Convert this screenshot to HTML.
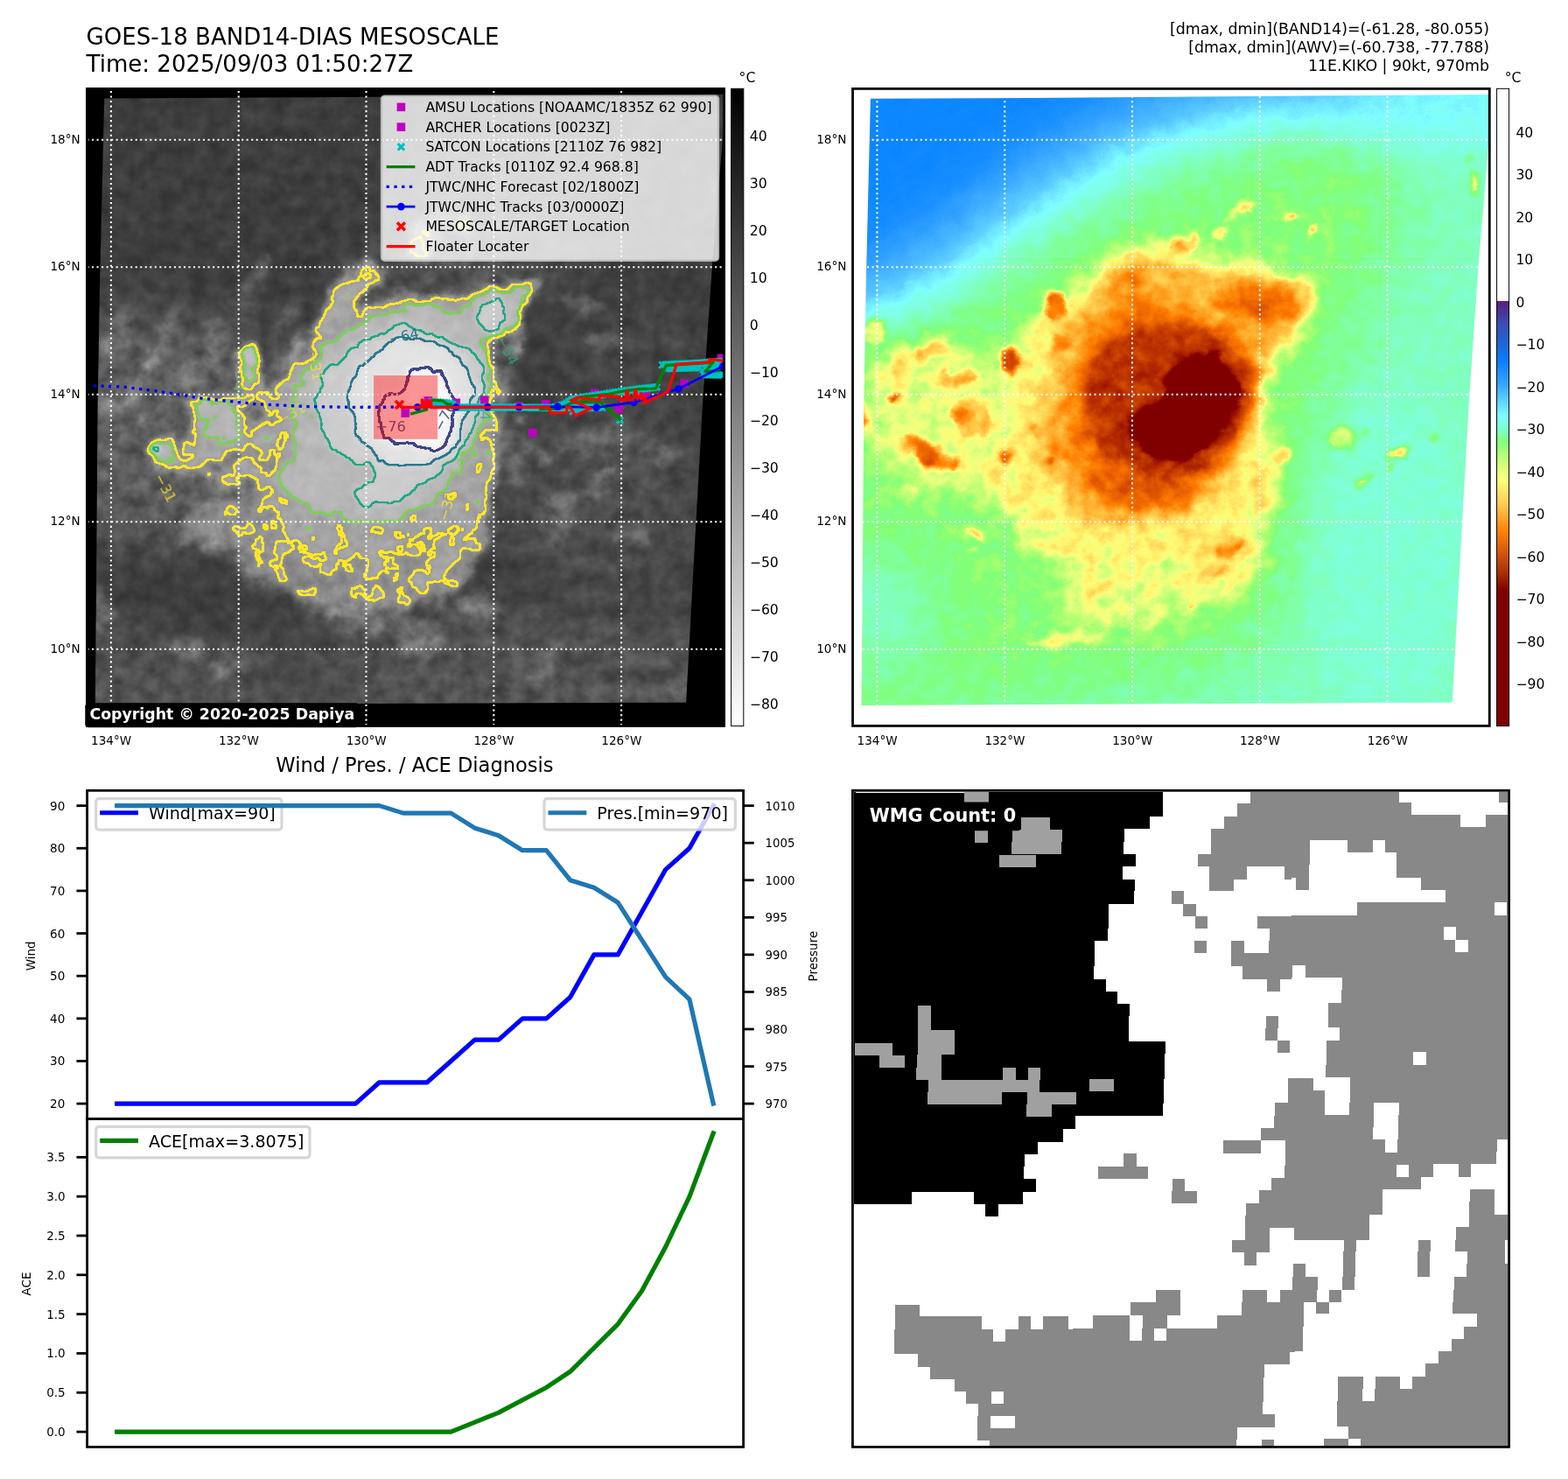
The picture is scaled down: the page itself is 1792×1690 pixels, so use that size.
<!DOCTYPE html>
<html lang="en"><head><meta charset="utf-8"><title>GOES-18 BAND14-DIAS MESOSCALE</title>
<style>html,body{margin:0;padding:0;background:#fff}svg{display:block}text{font-family:'DejaVu Sans','Liberation Sans',sans-serif;white-space:pre}</style></head><body>
<svg width="1792" height="1690" viewBox="0 0 1792 1690">
<rect x="0" y="0" width="1792" height="1690" fill="#fff"/>
<defs><filter id="if0" filterUnits="userSpaceOnUse" x="60" y="70" width="800" height="790" color-interpolation-filters="sRGB"><feGaussianBlur stdDeviation="26" result="b"/><feTurbulence type="fractalNoise" baseFrequency="0.012" numOctaves="3" seed="4" result="n"/><feDisplacementMap in="b" in2="n" scale="30" xChannelSelector="R" yChannelSelector="G"/></filter><filter id="if1" filterUnits="userSpaceOnUse" x="60" y="70" width="800" height="790" color-interpolation-filters="sRGB"><feGaussianBlur stdDeviation="8" result="b"/><feTurbulence type="fractalNoise" baseFrequency="0.013" numOctaves="4" seed="8" result="n"/><feDisplacementMap in="b" in2="n" scale="36" xChannelSelector="R" yChannelSelector="G"/></filter><filter id="if2" filterUnits="userSpaceOnUse" x="60" y="70" width="800" height="790" color-interpolation-filters="sRGB"><feGaussianBlur stdDeviation="7" result="b"/><feTurbulence type="fractalNoise" baseFrequency="0.016" numOctaves="4" seed="15" result="n"/><feDisplacementMap in="b" in2="n" scale="28" xChannelSelector="R" yChannelSelector="G"/></filter><filter id="if3" filterUnits="userSpaceOnUse" x="60" y="70" width="800" height="790" color-interpolation-filters="sRGB"><feGaussianBlur stdDeviation="4.5" result="b"/><feTurbulence type="fractalNoise" baseFrequency="0.03" numOctaves="3" seed="22" result="n"/><feDisplacementMap in="b" in2="n" scale="16" xChannelSelector="R" yChannelSelector="G"/></filter><filter id="if4" filterUnits="userSpaceOnUse" x="60" y="70" width="800" height="790" color-interpolation-filters="sRGB"><feGaussianBlur stdDeviation="4.5" result="b"/><feTurbulence type="fractalNoise" baseFrequency="0.03" numOctaves="3" seed="31" result="n"/><feDisplacementMap in="b" in2="n" scale="14" xChannelSelector="R" yChannelSelector="G"/></filter><filter id="if5" filterUnits="userSpaceOnUse" x="60" y="70" width="800" height="790" color-interpolation-filters="sRGB"><feGaussianBlur stdDeviation="4.5" result="b"/><feTurbulence type="fractalNoise" baseFrequency="0.03" numOctaves="3" seed="33" result="n"/><feDisplacementMap in="b" in2="n" scale="12" xChannelSelector="R" yChannelSelector="G"/></filter><filter id="if6" filterUnits="userSpaceOnUse" x="60" y="70" width="800" height="790" color-interpolation-filters="sRGB"><feGaussianBlur stdDeviation="4.5" result="b"/><feTurbulence type="fractalNoise" baseFrequency="0.03" numOctaves="3" seed="40" result="n"/><feDisplacementMap in="b" in2="n" scale="10" xChannelSelector="R" yChannelSelector="G"/></filter><filter id="if7" filterUnits="userSpaceOnUse" x="60" y="70" width="800" height="790" color-interpolation-filters="sRGB"><feGaussianBlur stdDeviation="5" result="b"/><feTurbulence type="fractalNoise" baseFrequency="0.04" numOctaves="3" seed="44" result="n"/><feDisplacementMap in="b" in2="n" scale="10" xChannelSelector="R" yChannelSelector="G"/></filter><filter id="if8" filterUnits="userSpaceOnUse" x="60" y="70" width="800" height="790" color-interpolation-filters="sRGB"><feGaussianBlur stdDeviation="5" result="b"/><feTurbulence type="fractalNoise" baseFrequency="0.03" numOctaves="3" seed="50" result="n"/><feDisplacementMap in="b" in2="n" scale="25" xChannelSelector="R" yChannelSelector="G"/></filter><filter id="irf" filterUnits="userSpaceOnUse" x="60" y="70" width="800" height="790" color-interpolation-filters="sRGB"><feTurbulence type="fractalNoise" baseFrequency="0.055" numOctaves="3" seed="11" result="n2"/><feDisplacementMap in="SourceGraphic" in2="n2" scale="9" xChannelSelector="G" yChannelSelector="B" result="d2"/><feColorMatrix in="n2" type="matrix" values="1 0 0 0 0  1 0 0 0 0  1 0 0 0 0  0 0 0 0 1" result="ng"/><feComponentTransfer in="d2" result="G"><feFuncR type="table" tableValues="0.000 0.100 0.220 0.500 0.900 1.000 0.600 0.300 0.150 0.080 0.050"/><feFuncG type="table" tableValues="0.000 0.100 0.220 0.500 0.900 1.000 0.600 0.300 0.150 0.080 0.050"/><feFuncB type="table" tableValues="0.000 0.100 0.220 0.500 0.900 1.000 0.600 0.300 0.150 0.080 0.050"/></feComponentTransfer><feComponentTransfer in="d2" result="H"><feFuncR type="table" tableValues="0.0000 0.0810 0.1582 0.2050 0.2290 0.3100 0.4860 0.6430 0.7715 0.8848 0.9905"/><feFuncG type="table" tableValues="0.0000 0.0810 0.1582 0.2050 0.2290 0.3100 0.4860 0.6430 0.7715 0.8848 0.9905"/><feFuncB type="table" tableValues="0.0000 0.0810 0.1582 0.2050 0.2290 0.3100 0.4860 0.6430 0.7715 0.8848 0.9905"/></feComponentTransfer><feComposite in="G" in2="ng" operator="arithmetic" k1="0.38" k2="0" k3="0" k4="0" result="P"/><feComposite in="H" in2="P" operator="arithmetic" k1="0" k2="1" k3="1" k4="0" result="img"/><feGaussianBlur in="img" stdDeviation="0.9" result="sm"/><feColorMatrix in="sm" type="matrix" values="0 0 0 0 1  0 0 0 0 1  0 0 0 0 1  1 0 0 0 0" result="fa"/><feComponentTransfer in="fa" result="m0"><feFuncA type="linear" slope="200.0" intercept="-119.5"/></feComponentTransfer><feMorphology in="m0" operator="dilate" radius="1" result="dl0"/><feMorphology in="m0" operator="erode" radius="1" result="er0"/><feComposite in="dl0" in2="er0" operator="out" result="rr0"/><feGaussianBlur in="rr0" stdDeviation="0.75" result="rb0"/><feComponentTransfer in="rb0" result="rg0"><feFuncA type="linear" slope="2.6" intercept="-0.25"/></feComponentTransfer><feFlood flood-color="#fde725" result="fc0"/><feComposite in="fc0" in2="rg0" operator="in" result="ct0"/><feComponentTransfer in="fa" result="m1"><feFuncA type="linear" slope="200.0" intercept="-135.8"/></feComponentTransfer><feMorphology in="m1" operator="dilate" radius="1" result="dl1"/><feMorphology in="m1" operator="erode" radius="1" result="er1"/><feComposite in="dl1" in2="er1" operator="out" result="rr1"/><feGaussianBlur in="rr1" stdDeviation="0.75" result="rb1"/><feComponentTransfer in="rb1" result="rg1"><feFuncA type="linear" slope="2.6" intercept="-0.25"/></feComponentTransfer><feFlood flood-color="#7ad151" result="fc1"/><feComposite in="fc1" in2="rg1" operator="in" result="ct1"/><feComponentTransfer in="fa" result="m2"><feFuncA type="linear" slope="200.0" intercept="-153.57"/></feComponentTransfer><feMorphology in="m2" operator="dilate" radius="1" result="dl2"/><feMorphology in="m2" operator="erode" radius="1" result="er2"/><feComposite in="dl2" in2="er2" operator="out" result="rr2"/><feGaussianBlur in="rr2" stdDeviation="0.75" result="rb2"/><feComponentTransfer in="rb2" result="rg2"><feFuncA type="linear" slope="2.6" intercept="-0.25"/></feComponentTransfer><feFlood flood-color="#22a884" result="fc2"/><feComposite in="fc2" in2="rg2" operator="in" result="ct2"/><feComponentTransfer in="fa" result="m3"><feFuncA type="linear" slope="200.0" intercept="-168.39"/></feComponentTransfer><feMorphology in="m3" operator="dilate" radius="1" result="dl3"/><feMorphology in="m3" operator="erode" radius="1" result="er3"/><feComposite in="dl3" in2="er3" operator="out" result="rr3"/><feGaussianBlur in="rr3" stdDeviation="0.75" result="rb3"/><feComponentTransfer in="rb3" result="rg3"><feFuncA type="linear" slope="2.6" intercept="-0.25"/></feComponentTransfer><feFlood flood-color="#2a788e" result="fc3"/><feComposite in="fc3" in2="rg3" operator="in" result="ct3"/><feComponentTransfer in="fa" result="m4"><feFuncA type="linear" slope="200.0" intercept="-186.17"/></feComponentTransfer><feMorphology in="m4" operator="dilate" radius="1" result="dl4"/><feMorphology in="m4" operator="erode" radius="1" result="er4"/><feComposite in="dl4" in2="er4" operator="out" result="rr4"/><feGaussianBlur in="rr4" stdDeviation="0.75" result="rb4"/><feComponentTransfer in="rb4" result="rg4"><feFuncA type="linear" slope="2.6" intercept="-0.25"/></feComponentTransfer><feFlood flood-color="#414487" result="fc4"/><feComposite in="fc4" in2="rg4" operator="in" result="ct4"/><feMerge><feMergeNode in="img"/><feMergeNode in="ct0"/><feMergeNode in="ct1"/><feMergeNode in="ct2"/><feMergeNode in="ct3"/><feMergeNode in="ct4"/></feMerge></filter><clipPath id="irq"><path d="M119.2 112.4 L300 111.6 L829.8 107.8 L826.3 155 L814.2 300 L803.1 460 L793 640 L784.1 802.8 L108.8 805 L109.9 683 L111.6 466 L114.2 316 Z"/></clipPath><filter id="wf0" filterUnits="userSpaceOnUse" x="940" y="70" width="800" height="790" color-interpolation-filters="sRGB"><feGaussianBlur stdDeviation="38" result="b"/></filter><filter id="wf1" filterUnits="userSpaceOnUse" x="940" y="70" width="800" height="790" color-interpolation-filters="sRGB"><feGaussianBlur stdDeviation="24" result="b"/></filter><filter id="wf2" filterUnits="userSpaceOnUse" x="940" y="70" width="800" height="790" color-interpolation-filters="sRGB"><feGaussianBlur stdDeviation="44" result="b"/><feTurbulence type="fractalNoise" baseFrequency="0.012" numOctaves="3" seed="3" result="n"/><feDisplacementMap in="b" in2="n" scale="12" xChannelSelector="R" yChannelSelector="G"/></filter><filter id="wf3" filterUnits="userSpaceOnUse" x="940" y="70" width="800" height="790" color-interpolation-filters="sRGB"><feGaussianBlur stdDeviation="13" result="b"/><feTurbulence type="fractalNoise" baseFrequency="0.014" numOctaves="4" seed="7" result="n"/><feDisplacementMap in="b" in2="n" scale="40" xChannelSelector="R" yChannelSelector="G"/></filter><filter id="wf4" filterUnits="userSpaceOnUse" x="940" y="70" width="800" height="790" color-interpolation-filters="sRGB"><feGaussianBlur stdDeviation="9" result="b"/><feTurbulence type="fractalNoise" baseFrequency="0.016" numOctaves="4" seed="12" result="n"/><feDisplacementMap in="b" in2="n" scale="30" xChannelSelector="R" yChannelSelector="G"/></filter><filter id="wf5" filterUnits="userSpaceOnUse" x="940" y="70" width="800" height="790" color-interpolation-filters="sRGB"><feGaussianBlur stdDeviation="8" result="b"/><feTurbulence type="fractalNoise" baseFrequency="0.018" numOctaves="4" seed="14" result="n"/><feDisplacementMap in="b" in2="n" scale="26" xChannelSelector="R" yChannelSelector="G"/></filter><filter id="wf6" filterUnits="userSpaceOnUse" x="940" y="70" width="800" height="790" color-interpolation-filters="sRGB"><feGaussianBlur stdDeviation="7" result="b"/><feTurbulence type="fractalNoise" baseFrequency="0.02" numOctaves="3" seed="5" result="n"/><feDisplacementMap in="b" in2="n" scale="20" xChannelSelector="R" yChannelSelector="G"/></filter><filter id="wf7" filterUnits="userSpaceOnUse" x="940" y="70" width="800" height="790" color-interpolation-filters="sRGB"><feGaussianBlur stdDeviation="4.5" result="b"/><feTurbulence type="fractalNoise" baseFrequency="0.025" numOctaves="3" seed="9" result="n"/><feDisplacementMap in="b" in2="n" scale="12" xChannelSelector="R" yChannelSelector="G"/></filter><filter id="wf8" filterUnits="userSpaceOnUse" x="940" y="70" width="800" height="790" color-interpolation-filters="sRGB"><feGaussianBlur stdDeviation="3" result="b"/><feTurbulence type="fractalNoise" baseFrequency="0.04" numOctaves="3" seed="21" result="n"/><feDisplacementMap in="b" in2="n" scale="12" xChannelSelector="R" yChannelSelector="G"/></filter><filter id="wvf" filterUnits="userSpaceOnUse" x="940" y="70" width="800" height="790" color-interpolation-filters="sRGB"><feTurbulence type="fractalNoise" baseFrequency="0.055" numOctaves="4" seed="11" result="n2"/><feDisplacementMap in="SourceGraphic" in2="n2" scale="10" xChannelSelector="G" yChannelSelector="B" result="d2"/><feColorMatrix in="n2" type="matrix" values="1 0 0 0 0  1 0 0 0 0  1 0 0 0 0  0 0 0 0 1" result="ng"/><feComponentTransfer in="d2" result="G"><feFuncR type="table" tableValues="0.150 0.500 1.000 1.000 1.000 1.000 0.700 0.300 0.150 0.100 0.100"/><feFuncG type="table" tableValues="0.150 0.500 1.000 1.000 1.000 1.000 0.700 0.300 0.150 0.100 0.100"/><feFuncB type="table" tableValues="0.150 0.500 1.000 1.000 1.000 1.000 0.700 0.300 0.150 0.100 0.100"/></feComponentTransfer><feComponentTransfer in="d2" result="H"><feFuncR type="table" tableValues="0.0000 0.0625 0.1250 0.2250 0.3250 0.4250 0.5475 0.6775 0.7888 0.8925 0.9925"/><feFuncG type="table" tableValues="0.0000 0.0625 0.1250 0.2250 0.3250 0.4250 0.5475 0.6775 0.7888 0.8925 0.9925"/><feFuncB type="table" tableValues="0.0000 0.0625 0.1250 0.2250 0.3250 0.4250 0.5475 0.6775 0.7888 0.8925 0.9925"/></feComponentTransfer><feComposite in="G" in2="ng" operator="arithmetic" k1="0.15" k2="0" k3="0" k4="0" result="P"/><feComposite in="H" in2="P" operator="arithmetic" k1="0" k2="1" k3="1" k4="0" result="fld"/><feComponentTransfer in="fld"><feFuncR type="table" tableValues="0.502 0.502 0.502 0.502 0.502 0.502 0.502 0.502 0.502 0.502 0.502 0.533 0.565 0.596 0.627 0.659 0.690 0.722 0.753 0.784 0.816 0.847 0.878 0.910 0.941 0.961 0.980 1.000 1.000 1.000 1.000 1.000 1.000 1.000 1.000 1.000 1.000 1.000 1.000 0.970 0.910 0.826 0.742 0.659 0.580 0.502 0.502 0.502 0.502 0.502 0.502 0.501 0.499 0.498 0.458 0.417 0.376 0.339 0.302 0.265 0.227 0.186 0.144 0.102 0.068 0.034 0.000 0.031 0.063 0.114 0.165"/><feFuncG type="table" tableValues="0.000 0.000 0.000 0.000 0.000 0.000 0.000 0.000 0.000 0.000 0.000 0.016 0.031 0.063 0.094 0.125 0.157 0.188 0.220 0.251 0.282 0.314 0.345 0.376 0.408 0.439 0.471 0.502 0.544 0.586 0.627 0.669 0.711 0.753 0.795 0.837 0.878 0.927 0.976 1.000 1.000 1.000 1.000 1.000 1.000 1.000 1.000 1.000 1.000 1.000 1.000 1.000 1.000 1.000 0.939 0.877 0.816 0.776 0.737 0.698 0.659 0.627 0.596 0.565 0.542 0.520 0.498 0.469 0.439 0.408 0.376"/><feFuncB type="table" tableValues="0.000 0.000 0.000 0.000 0.000 0.000 0.000 0.000 0.000 0.000 0.000 0.000 0.000 0.000 0.000 0.000 0.000 0.000 0.000 0.000 0.000 0.000 0.000 0.000 0.000 0.000 0.000 0.000 0.042 0.084 0.125 0.167 0.209 0.251 0.293 0.335 0.376 0.414 0.452 0.481 0.502 0.481 0.460 0.439 0.455 0.471 0.533 0.596 0.669 0.742 0.816 0.877 0.939 1.000 1.000 1.000 1.000 1.000 1.000 1.000 1.000 1.000 1.000 1.000 1.000 1.000 1.000 0.971 0.941 0.871 0.800"/></feComponentTransfer></filter><clipPath id="wvq"><path d="M994.9 112.8 L1175 112 L1705.5 108 L1702 155 L1689.9 300 L1678.8 460 L1668.7 640 L1659.8 802.8 L984.5 806 L985.6 683 L987.3 466 L989.9 316 Z"/></clipPath></defs>
<rect x="98.1" y="100" width="730.9" height="730.6" fill="#000"/>
<clipPath id="c1"><rect x="99.5" y="101.4" width="728.1" height="727.8"/></clipPath>
<g clip-path="url(#c1)">
<g clip-path="url(#irq)"><g filter="url(#irf)">
<rect x="60" y="70" width="800" height="790" fill="#3e3e3e"/>
<g filter="url(#if0)">
<path d="M60 722 C91.67 701.67 190 740.83 250 738 C310 735.17 368.33 712.17 420 705 C471.67 697.83 513.33 695 560 695 C606.67 695 650 701.67 700 705 C750 708.33 833.33 689.17 860 715 C886.67 740.83 993.33 835.83 860 860 C726.67 884.17 193.33 883 60 860 C-73.33 837 28.33 742.33 60 722Z" fill="#535353"/>
<ellipse cx="690" cy="570" rx="130" ry="110" fill="#4c4c4c"/>
<path d="M60 370 C83.33 330.33 160 359.5 200 362 C240 364.5 278.33 365.33 300 385 C321.67 404.67 330 444.17 330 480 C330 515.83 321.67 578 300 600 C278.33 622 240 612 200 612 C160 612 83.33 640.33 60 600 C36.67 559.67 36.67 409.67 60 370Z" fill="#5d5d5d"/>
<ellipse cx="560" cy="250" rx="130" ry="110" fill="#4a4a4a"/>
<ellipse cx="500" cy="290" rx="70" ry="30" fill="#5b5b5b"/>
<ellipse cx="720" cy="400" rx="90" ry="60" fill="#464646"/>
<ellipse cx="180" cy="680" rx="90" ry="45" fill="#3e3e3e" transform="rotate(25 180 680)"/>
<ellipse cx="350" cy="775" rx="70" ry="30" fill="#484848" transform="rotate(-20 350 775)"/>
</g>
<g filter="url(#if1)">
<path d="M305.05 450.15 C307.42 443.36 307.38 439.88 313.23 429.22 C319.08 418.55 332.53 396.84 340.15 386.16 C347.77 375.48 353.66 373.46 358.95 365.15 C364.25 356.84 366.93 344.88 371.91 336.32 C376.89 327.75 383.74 319.56 388.84 313.76 C393.93 307.95 397.41 304.89 402.46 301.48 C407.51 298.06 413.6 292.98 419.13 293.25 C424.67 293.53 432.41 299.48 435.67 303.13 C438.93 306.77 441.69 311.41 438.7 315.12 C435.7 318.83 423.67 321.29 417.7 325.39 C411.73 329.49 402.75 336.72 402.87 339.74 C402.99 342.75 411.28 343.92 418.45 343.48 C425.61 343.04 438.82 339.01 445.85 337.1 C452.88 335.18 452.9 333.01 460.63 332.01 C468.35 331.01 483.44 330.88 492.2 331.1 C500.96 331.33 506.57 332.93 513.2 333.35 C519.83 333.78 525.77 335.24 531.97 333.66 C538.18 332.09 541.55 326.1 550.44 323.9 C559.33 321.71 574.42 321.65 585.32 320.49 C596.23 319.34 609.75 316.86 615.86 316.97 C621.98 317.07 623.01 318.61 622.03 321.14 C621.06 323.66 613.83 327.1 610.02 332.12 C606.22 337.15 600.75 344.34 599.19 351.3 C597.63 358.27 603.45 369.17 600.67 373.89 C597.89 378.62 588.39 377.75 582.5 379.66 C576.6 381.58 567.71 380.98 565.28 385.41 C562.85 389.84 566.53 399.06 567.9 406.23 C569.27 413.41 572.85 421.2 573.51 428.43 C574.17 435.67 572.45 442.55 571.87 449.65 C571.28 456.76 570 464.11 570 471.07 C570 478.03 571.11 484.49 571.86 491.41 C572.61 498.33 574 504.53 574.5 512.6 C575 520.67 576.25 531.8 574.86 539.83 C573.47 547.85 568.73 552.8 566.14 560.75 C563.55 568.7 561.87 580.5 559.29 587.53 C556.72 594.56 556.02 594.77 550.7 602.94 C545.37 611.12 535.09 625.94 527.35 636.59 C519.61 647.25 510.01 663.49 504.27 666.88 C498.53 670.27 493.39 663.61 492.93 656.94 C492.46 650.27 502.98 634.84 501.46 626.85 C499.94 618.85 490.59 609.1 483.79 608.96 C476.99 608.81 467.31 621.83 460.67 625.99 C454.04 630.15 450.22 630.96 443.99 633.93 C437.75 636.89 429.47 641.83 423.25 643.78 C417.04 645.73 413.57 644.69 406.69 645.61 C399.81 646.53 387.67 650.73 381.97 649.31 C376.28 647.89 379.25 640.38 372.53 637.08 C365.81 633.77 349.56 633.34 341.65 629.49 C333.74 625.64 329.53 616.75 325.07 613.97 C320.61 611.18 317.82 616.4 314.88 612.77 C311.94 609.15 308.22 598.73 307.43 592.24 C306.64 585.75 311.46 582.09 310.15 573.85 C308.84 565.6 301.75 554.87 299.57 542.78 C297.4 530.68 297.21 513.39 297.11 501.26 C297.02 489.13 297.68 478.52 299 470 C300.32 461.48 302.68 456.95 305.05 450.15Z" fill="#797979"/>
<path d="M200 590 C194.17 603.33 240.17 623.33 265 640 C289.83 656.67 316.5 680 349 690 C381.5 700 431.17 702.33 460 700 C488.83 697.67 504.5 692.67 522 676 C539.5 659.33 562 619.33 565 600 C568 580.67 584.17 566.67 540 560 C495.83 553.33 356.67 555 300 560 C243.33 565 205.83 576.67 200 590Z" fill="#919191"/>
</g>
<g filter="url(#if2)">
<path d="M290 585 C290.83 596.17 316.67 618.17 335 632 C353.33 645.83 377.5 660.33 400 668 C422.5 675.67 450.33 680.17 470 678 C489.67 675.83 504.33 668 518 655 C531.67 642 551.67 615.83 552 600 C552.33 584.17 557 565.83 520 560 C483 554.17 368.33 560.83 330 565 C291.67 569.17 289.17 573.83 290 585Z" fill="#979797"/>
<ellipse cx="215" cy="430" rx="20" ry="14" fill="#888888" transform="rotate(-30 215 430)"/>
<ellipse cx="190" cy="380" rx="8" ry="40" fill="#6e6e6e" transform="rotate(28 190 380)"/>
<ellipse cx="240" cy="395" rx="7" ry="36" fill="#717171" transform="rotate(25 240 395)"/>
<ellipse cx="140" cy="370" rx="10" ry="30" fill="#6a6a6a" transform="rotate(30 140 370)"/>
<ellipse cx="285" cy="330" rx="5" ry="40" fill="#626262" transform="rotate(28 285 330)"/>
<ellipse cx="155" cy="435" rx="10" ry="18" fill="#888888"/>
<ellipse cx="120" cy="470" rx="10" ry="20" fill="#909090"/>
<ellipse cx="420" cy="712" rx="40" ry="12" fill="#797979" transform="rotate(-5 420 712)"/>
<ellipse cx="540" cy="690" rx="24" ry="14" fill="#777777"/>
<ellipse cx="210" cy="742" rx="18" ry="12" fill="#757575"/>
<ellipse cx="258" cy="760" rx="16" ry="14" fill="#797979"/>
</g>
<g filter="url(#if3)">
<path d="M312 451 C314.33 444.5 314.33 441.17 320 431 C325.67 420.83 338.67 400.17 346 390 C353.33 379.83 359 378 364 370 C369 362 371.33 350.33 376 342 C380.67 333.67 387.17 325.67 392 320 C396.83 314.33 400.17 311.33 405 308 C409.83 304.67 415.67 299.67 421 300 C426.33 300.33 433.83 306.33 437 310 C440.17 313.67 442.83 318.33 440 322 C437.17 325.67 425.67 328 420 332 C414.33 336 405.83 343 406 346 C406.17 349 414.17 350.33 421 350 C427.83 349.67 440.33 345.83 447 344 C453.67 342.17 453.67 340 461 339 C468.33 338 482.67 337.83 491 338 C499.33 338.17 504.67 339.67 511 340 C517.33 340.33 523 341.67 529 340 C535 338.33 538.33 332.33 547 330 C555.67 327.67 570.33 327.33 581 326 C591.67 324.67 605 322 611 322 C617 322 618 323.5 617 326 C616 328.5 608.83 332 605 337 C601.17 342 595.67 349.17 594 356 C592.33 362.83 597.83 373.33 595 378 C592.17 382.67 582.83 382 577 384 C571.17 386 562.5 385.67 560 390 C557.5 394.33 560.83 403.17 562 410 C563.17 416.83 566.5 424.17 567 431 C567.5 437.83 565.67 444.33 565 451 C564.33 457.67 563 464.5 563 471 C563 477.5 564.17 483.5 565 490 C565.83 496.5 567.33 502.33 568 510 C568.67 517.67 570.17 528.33 569 536 C567.83 543.67 563.33 548.33 561 556 C558.67 563.67 557.33 575.17 555 582 C552.67 588.83 552 589 547 597 C542 605 532.33 619.5 525 630 C517.67 640.5 508.5 656.67 503 660 C497.5 663.33 492.5 656.67 492 650 C491.5 643.33 501.5 628 500 620 C498.5 612 489.5 602.17 483 602 C476.5 601.83 467.33 614.83 461 619 C454.67 623.17 451 624 445 627 C439 630 431 635 425 637 C419 639 415.67 638 409 639 C402.33 640 390.5 644.33 385 643 C379.5 641.67 382.5 634.17 376 631 C369.5 627.83 353.67 627.67 346 624 C338.33 620.33 334.33 611.67 330 609 C325.67 606.33 322.83 611.5 320 608 C317.17 604.5 313.67 594.33 313 588 C312.33 581.67 317.17 578 316 570 C314.83 562 308 551.67 306 540 C304 528.33 304 511.67 304 500 C304 488.33 304.67 478.17 306 470 C307.33 461.83 309.67 457.5 312 451Z" fill="#a3a3a3"/>
<path d="M316 570 C308.83 570.17 288.67 552.33 279 551 C269.33 549.67 262.83 563.17 258 562 C253.17 560.83 254.67 546.33 250 544 C245.33 541.67 238.33 549.17 230 548 C221.67 546.83 209.17 540 200 537 C190.83 534 179.83 534.83 175 530 C170.17 525.17 168.5 513 171 508 C173.5 503 183.83 499.83 190 500 C196.17 500.17 203.33 510.17 208 509 C212.67 507.83 216.33 499.17 218 493 C219.67 486.83 218.67 478.5 218 472 C217.33 465.5 210.33 457.33 214 454 C217.67 450.67 232 452.67 240 452 C248 451.33 256.17 451.17 262 450 C267.83 448.83 273.33 453.33 275 445 C276.67 436.67 270.33 408.83 272 400 C273.67 391.17 280.33 392 285 392 C289.67 392 297.17 392 300 400 C302.83 408 299 431.67 302 440 C305 448.33 314.17 438.33 318 450 C321.83 461.67 324.33 493.33 325 510 C325.67 526.67 323.5 540 322 550 C320.5 560 323.17 569.83 316 570Z" fill="#9f9f9f"/>
<ellipse cx="528" cy="605" rx="7" ry="42" fill="#a2a2a2" transform="rotate(32 528 605)"/>
<ellipse cx="150" cy="456" rx="7" ry="6" fill="#a6a6a6"/>
<ellipse cx="122" cy="396" rx="5" ry="7" fill="#9f9f9f"/>
<ellipse cx="172" cy="410" rx="6" ry="10" fill="#9f9f9f" transform="rotate(20 172 410)"/>
<ellipse cx="590" cy="395" rx="8" ry="12" fill="#9f9f9f" transform="rotate(25 590 395)"/>
<ellipse cx="385" cy="700" rx="7" ry="4" fill="#9f9f9f"/>
<ellipse cx="482" cy="274" rx="15" ry="22" fill="#a2a2a2" transform="rotate(15 482 274)"/>
<ellipse cx="528" cy="257" rx="13" ry="10" fill="#a1a1a1"/>
<ellipse cx="503" cy="250" rx="6" ry="5" fill="#a1a1a1"/>
<ellipse cx="602" cy="248" rx="5" ry="3" fill="#a1a1a1"/>
<ellipse cx="812" cy="214" rx="3" ry="6" fill="#a2a2a2"/>
<ellipse cx="590" cy="478" rx="4" ry="7" fill="#a1a1a1" transform="rotate(20 590 478)"/>
<ellipse cx="622" cy="527" rx="3" ry="8" fill="#a1a1a1"/>
<ellipse cx="639" cy="513" rx="3.5" ry="3.5" fill="#a1a1a1"/>
<ellipse cx="668" cy="513" rx="3.5" ry="3.5" fill="#a1a1a1"/>
<ellipse cx="697" cy="535" rx="11" ry="4" fill="#a1a1a1" transform="rotate(-25 697 535)"/>
<ellipse cx="720" cy="520" rx="3" ry="3" fill="#a1a1a1"/>
<ellipse cx="160" cy="474" rx="4" ry="6" fill="#a1a1a1"/>
<ellipse cx="140" cy="486" rx="4" ry="5" fill="#a1a1a1"/>
<ellipse cx="188" cy="560" rx="5" ry="3" fill="#a1a1a1"/>
<ellipse cx="293" cy="473" rx="13" ry="16" fill="#6e6e6e"/>
<ellipse cx="262" cy="520" rx="7" ry="9" fill="#797979"/>
<ellipse cx="330" cy="362" rx="6" ry="24" fill="#626262" transform="rotate(30 330 362)"/>
<ellipse cx="352" cy="392" rx="4" ry="22" fill="#6a6a6a" transform="rotate(30 352 392)"/>
<ellipse cx="318" cy="420" rx="4" ry="18" fill="#6e6e6e" transform="rotate(22 318 420)"/>
<ellipse cx="245" cy="532" rx="9" ry="6" fill="#757575"/>
<ellipse cx="300" cy="530" rx="7" ry="9" fill="#797979"/>
</g>
<g filter="url(#if4)">
<path d="M334 500 C333 492.83 335 480.5 336 471 C337 461.5 337 451.67 340 443 C343 434.33 348.33 426.33 354 419 C359.67 411.67 367.67 405.17 374 399 C380.33 392.83 384.83 386.83 392 382 C399.17 377.17 408.83 374 417 370 C425.17 366 433 361 441 358 C449 355 457 353.33 465 352 C473 350.67 482 349.33 489 350 C496 350.67 501 354.33 507 356 C513 357.67 521 361 525 360 C529 359 528.67 353.33 531 350 C533.33 346.67 534 343.17 539 340 C544 336.83 553.33 333.17 561 331 C568.67 328.83 577.17 328 585 327 C592.83 326 605.33 322.83 608 325 C610.67 327.17 603.5 334.83 601 340 C598.5 345.17 595 350.33 593 356 C591 361.67 591.67 369.67 589 374 C586.33 378.33 581.67 380.17 577 382 C572.33 383.83 565.33 383.5 561 385 C556.67 386.5 552 386.83 551 391 C550 395.17 553.67 403.33 555 410 C556.33 416.67 558.67 424.17 559 431 C559.33 437.83 558 444.33 557 451 C556 457.67 555 463.67 553 471 C551 478.33 547.33 488.5 545 495 C542.67 501.5 542 504.5 539 510 C536 515.5 531.83 521 527 528 C522.17 535 516.33 544.33 510 552 C503.67 559.67 495.5 568.33 489 574 C482.5 579.67 478 582.67 471 586 C464 589.33 455.33 592.67 447 594 C438.67 595.33 428.83 594.67 421 594 C413.17 593.33 407.5 591.5 400 590 C392.5 588.5 383.33 585.33 376 585 C368.67 584.67 363.33 590.5 356 588 C348.67 585.5 337.67 575.33 332 570 C326.33 564.67 325.33 559.33 322 556 C318.67 552.67 312.33 553 312 550 C311.67 547 315 544 320 538 C325 532 339.67 520.33 342 514 C344.33 507.67 335 507.17 334 500Z" fill="#b8b8b8"/>
<path d="M224 460 C228 455.5 242.67 453.67 250 455 C257.33 456.33 264.33 460.83 268 468 C271.67 475.17 274 491 272 498 C270 505 262 509.33 256 510 C250 510.67 241 506.67 236 502 C231 497.33 228 489 226 482 C224 475 220 464.5 224 460Z" fill="#b5b5b5"/>
<ellipse cx="187" cy="519" rx="17" ry="12" fill="#b7b7b7" transform="rotate(20 187 519)"/>
<ellipse cx="287" cy="415" rx="9" ry="22" fill="#b5b5b5" transform="rotate(8 287 415)"/>
</g>
<g filter="url(#if5)">
<path d="M362 467 C361.33 458.5 362 446.67 364 439 C366 431.33 369.33 427 374 421 C378.67 415 384.83 408.33 392 403 C399.17 397.67 409.5 392.83 417 389 C424.5 385.17 430.33 383.83 437 380 C443.67 376.17 452.17 368.83 457 366 C461.83 363.17 463.33 361.67 466 363 C468.67 364.33 469.17 371.83 473 374 C476.83 376.17 483.67 374.67 489 376 C494.33 377.33 499.67 379.67 505 382 C510.33 384.33 515.33 386.67 521 390 C526.67 393.33 534.33 397.83 539 402 C543.67 406.17 547 410.17 549 415 C551 419.83 551 425.33 551 431 C551 436.67 549.67 442.33 549 449 C548.33 455.67 548.33 463.83 547 471 C545.67 478.17 544 485.17 541 492 C538 498.83 533 505.67 529 512 C525 518.33 521.67 524.83 517 530 C512.33 535.17 507 538.67 501 543 C495 547.33 487.67 551.83 481 556 C474.33 560.17 467.67 564.5 461 568 C454.33 571.5 448 574.67 441 577 C434 579.33 424.5 582.5 419 582 C413.5 581.5 410.33 577.67 408 574 C405.67 570.33 401.33 564.33 405 560 C408.67 555.67 426.83 552.5 430 548 C433.17 543.5 429 536.67 424 533 C419 529.33 407.67 530.17 400 526 C392.33 521.83 383.33 514 378 508 C372.67 502 370.67 496.83 368 490 C365.33 483.17 362.67 475.5 362 467Z" fill="#cecece"/>
<ellipse cx="562" cy="362" rx="17" ry="22" fill="#cccccc" transform="rotate(25 562 362)"/>
<ellipse cx="176" cy="514" rx="6" ry="7" fill="#d0d0d0"/>
<ellipse cx="283" cy="406" rx="5" ry="8" fill="#cccccc"/>
</g>
<g filter="url(#if6)">
<path d="M461 385 C452.17 387.33 440.83 397 434 402 C427.17 407 424.83 410.5 420 415 C415.17 419.5 408.33 424.33 405 429 C401.67 433.67 400.83 437.67 400 443 C399.17 448.33 399.33 454.67 400 461 C400.67 467.33 402.67 475.33 404 481 C405.33 486.67 405.83 491.17 408 495 C410.17 498.83 413.5 499.83 417 504 C420.5 508.17 424.33 515.5 429 520 C433.67 524.5 438.33 528.83 445 531 C451.67 533.17 461.33 533.5 469 533 C476.67 532.5 484 530.17 491 528 C498 525.83 506 523.67 511 520 C516 516.33 518.33 511 521 506 C523.67 501 524.67 495.83 527 490 C529.33 484.17 533 477.5 535 471 C537 464.5 538.67 457.67 539 451 C539.33 444.33 538.67 437 537 431 C535.33 425 532.33 419.5 529 415 C525.67 410.5 521.67 407.5 517 404 C512.33 400.5 506 396.67 501 394 C496 391.33 493.67 389.5 487 388 C480.33 386.5 469.83 382.67 461 385Z" fill="#e3e3e3"/>
</g>
<g filter="url(#if7)">
<ellipse cx="488" cy="467" rx="33" ry="50" fill="#f7f7f7" transform="rotate(-5 488 467)"/>
<ellipse cx="452" cy="478" rx="22" ry="30" fill="#f4f4f4"/>
</g>
<g filter="url(#if8)">
<ellipse cx="640" cy="590" rx="22" ry="35" fill="#626262" transform="rotate(10 640 590)"/>
<ellipse cx="680" cy="560" rx="30" ry="14" fill="#646464" transform="rotate(-25 680 560)"/>
<ellipse cx="725" cy="610" rx="20" ry="12" fill="#626262"/>
<ellipse cx="590" cy="520" rx="14" ry="30" fill="#646464" transform="rotate(5 590 520)"/>
<ellipse cx="690" cy="500" rx="40" ry="18" fill="#5e5e5e" transform="rotate(-10 690 500)"/>
<ellipse cx="750" cy="520" rx="25" ry="14" fill="#606060"/>
<ellipse cx="665" cy="350" rx="25" ry="12" fill="#5b5b5b" transform="rotate(20 665 350)"/>
<ellipse cx="690" cy="390" rx="20" ry="10" fill="#595959"/>
<ellipse cx="115" cy="700" rx="14" ry="30" fill="#666666"/>
<ellipse cx="480" cy="730" rx="30" ry="22" fill="#686868"/>
<ellipse cx="620" cy="760" rx="14" ry="30" fill="#646464" transform="rotate(25 620 760)"/>
<ellipse cx="780" cy="790" rx="12" ry="8" fill="#6e6e6e"/>
<ellipse cx="290" cy="330" rx="6" ry="40" fill="#555555" transform="rotate(25 290 330)"/>
<ellipse cx="120" cy="530" rx="14" ry="20" fill="#626262"/>
</g>
</g></g>
<text x="0" y="0" font-size="16.3" text-anchor="start" fill="#2a788e" opacity="1" transform="translate(446 393) rotate(-12)">−64</text>
<text x="0" y="0" font-size="16.3" text-anchor="start" fill="#22a884" opacity="0.8" transform="translate(567 388) rotate(62)">−54</text>
<text x="0" y="0" font-size="16.3" text-anchor="start" fill="#22a884" opacity="0.7" transform="translate(549 446) rotate(90)">−54</text>
<text x="0" y="0" font-size="16.3" text-anchor="start" fill="#414487" opacity="0.9" transform="translate(429.5 493) rotate(0)">−76</text>
<text x="0" y="0" font-size="16.3" text-anchor="start" fill="#414487" opacity="0.9" transform="translate(505 494) rotate(-62)">−76</text>
<text x="0" y="0" font-size="16.3" text-anchor="start" fill="#7ad151" opacity="0.7" transform="translate(521 548) rotate(-58)">−42</text>
<text x="0" y="0" font-size="16.3" text-anchor="start" fill="#fde725" opacity="0.8" transform="translate(512 596) rotate(-75)">−31</text>
<text x="0" y="0" font-size="16.3" text-anchor="start" fill="#fde725" opacity="0.8" transform="translate(176 545) rotate(62)">−31</text>
<text x="0" y="0" font-size="16.3" text-anchor="start" fill="#fde725" opacity="0.7" transform="translate(352 402) rotate(80)">−31</text>
<text x="0" y="0" font-size="16.3" text-anchor="start" fill="#7ad151" opacity="0.6" transform="translate(264 424) rotate(80)">−42</text>
<text x="0" y="0" font-size="16.3" text-anchor="start" fill="#fde725" opacity="0.5" transform="translate(321 486) rotate(-30)">−31</text>
<text x="0" y="0" font-size="16.3" text-anchor="start" fill="#7ad151" opacity="0.5" transform="translate(332 445) rotate(75)">−42</text>
<line x1="126.9" y1="829.2" x2="126.9" y2="101.4" stroke="#fff" stroke-width="2.08" stroke-dasharray="2.08 3.44"/>
<line x1="272.7" y1="829.2" x2="272.7" y2="101.4" stroke="#fff" stroke-width="2.08" stroke-dasharray="2.08 3.44"/>
<line x1="418.5" y1="829.2" x2="418.5" y2="101.4" stroke="#fff" stroke-width="2.08" stroke-dasharray="2.08 3.44"/>
<line x1="564.3" y1="829.2" x2="564.3" y2="101.4" stroke="#fff" stroke-width="2.08" stroke-dasharray="2.08 3.44"/>
<line x1="710.1" y1="829.2" x2="710.1" y2="101.4" stroke="#fff" stroke-width="2.08" stroke-dasharray="2.08 3.44"/>
<line x1="99.5" y1="741.8" x2="827.6" y2="741.8" stroke="#fff" stroke-width="2.08" stroke-dasharray="2.08 3.44"/>
<line x1="99.5" y1="596.3" x2="827.6" y2="596.3" stroke="#fff" stroke-width="2.08" stroke-dasharray="2.08 3.44"/>
<line x1="99.5" y1="450.8" x2="827.6" y2="450.8" stroke="#fff" stroke-width="2.08" stroke-dasharray="2.08 3.44"/>
<line x1="99.5" y1="305.3" x2="827.6" y2="305.3" stroke="#fff" stroke-width="2.08" stroke-dasharray="2.08 3.44"/>
<line x1="99.5" y1="159.8" x2="827.6" y2="159.8" stroke="#fff" stroke-width="2.08" stroke-dasharray="2.08 3.44"/>
<rect x="427.1" y="429" width="72.95" height="72.8" fill="#ff0000" fill-opacity="0.4"/>
<rect x="458.5" y="467.2" width="9.6" height="9.6" fill="#bf00bf"/>
<rect x="484.6" y="453.1" width="9.6" height="9.6" fill="#bf00bf"/>
<rect x="516.5" y="455.5" width="9.6" height="9.6" fill="#bf00bf"/>
<rect x="548.8" y="452.5" width="9.6" height="9.6" fill="#bf00bf"/>
<rect x="588.3" y="459.2" width="9.6" height="9.6" fill="#bf00bf"/>
<rect x="619" y="456.8" width="9.6" height="9.6" fill="#bf00bf"/>
<rect x="603.9" y="489.7" width="9.6" height="9.6" fill="#bf00bf"/>
<rect x="675" y="444.4" width="9.6" height="9.6" fill="#bf00bf"/>
<rect x="702.5" y="462" width="9.6" height="9.6" fill="#bf00bf"/>
<rect x="733" y="446.2" width="9.6" height="9.6" fill="#bf00bf"/>
<rect x="777.5" y="433.6" width="9.6" height="9.6" fill="#bf00bf"/>
<rect x="819.7" y="404.5" width="9.6" height="9.6" fill="#bf00bf"/>
<path d="M490.3 455.3L497.7 462.7M490.3 462.7L497.7 455.3M493.69 455.61L501.09 463.01M493.69 463.01L501.09 455.61M497.07 455.92L504.47 463.32M497.07 463.32L504.47 455.92M500.46 456.22L507.86 463.62M500.46 463.62L507.86 456.22M503.84 456.53L511.24 463.93M503.84 463.93L511.24 456.53M507.23 456.84L514.63 464.24M507.23 464.24L514.63 456.84M510.62 457.15L518.02 464.55M510.62 464.55L518.02 457.15M513.45 458.56L520.85 465.96M513.45 465.96L520.85 458.56M515.74 461.08L523.14 468.48M515.74 468.48L523.14 461.08M518.86 461.71L526.26 469.11M518.86 469.11L526.26 461.71M522.26 461.71L529.66 469.11M522.26 469.11L529.66 461.71M525.66 461.72L533.06 469.12M525.66 469.12L533.06 461.72M529.06 461.73L536.46 469.13M529.06 469.13L536.46 461.73M532.46 461.74L539.86 469.14M532.46 469.14L539.86 461.74M535.86 461.75L543.26 469.15M535.86 469.15L543.26 461.75M539.26 461.76L546.66 469.16M539.26 469.16L546.66 461.76M542.66 461.77L550.06 469.17M542.66 469.17L550.06 461.77M546.06 461.77L553.46 469.17M546.06 469.17L553.46 461.77M549.46 461.78L556.86 469.18M549.46 469.18L556.86 461.78M552.86 461.79L560.26 469.19M552.86 469.19L560.26 461.79M556.26 461.8L563.66 469.2M556.26 469.2L563.66 461.8M559.66 461.81L567.06 469.21M559.66 469.21L567.06 461.81M563.06 461.82L570.46 469.22M563.06 469.22L570.46 461.82M566.46 461.83L573.86 469.23M566.46 469.23L573.86 461.83M569.86 461.83L577.26 469.23M569.86 469.23L577.26 461.83M573.26 461.84L580.66 469.24M573.26 469.24L580.66 461.84M576.66 461.85L584.06 469.25M576.66 469.25L584.06 461.85M580.06 461.86L587.46 469.26M580.06 469.26L587.46 461.86M583.46 461.87L590.86 469.27M583.46 469.27L590.86 461.87M586.86 461.88L594.26 469.28M586.86 469.28L594.26 461.88M590.26 461.88L597.66 469.28M590.26 469.28L597.66 461.88M593.66 461.89L601.06 469.29M593.66 469.29L601.06 461.89M597.06 461.91L604.46 469.31M597.06 469.31L604.46 461.91M600.46 461.95L607.86 469.35M600.46 469.35L607.86 461.95M603.86 461.99L611.26 469.39M603.86 469.39L611.26 461.99M607.26 462.04L614.66 469.44M607.26 469.44L614.66 462.04M610.66 462.08L618.06 469.48M610.66 469.48L618.06 462.08M614.06 462.12L621.46 469.52M614.06 469.52L621.46 462.12M617.46 462.16L624.86 469.56M617.46 469.56L624.86 462.16M620.86 462.21L628.26 469.61M620.86 469.61L628.26 462.21M624.26 462.25L631.66 469.65M624.26 469.65L631.66 462.25M627.66 462.29L635.06 469.69M627.66 469.69L635.06 462.29M630.95 461.54L638.35 468.94M630.95 468.94L638.35 461.54M634.22 460.61L641.62 468.01M634.22 468.01L641.62 460.61M637.49 459.67L644.89 467.07M637.49 467.07L644.89 459.67M640.76 458.74L648.16 466.14M640.76 466.14L648.16 458.74M643.8 457.3L651.2 464.7M643.8 464.7L651.2 457.3M646.63 455.42L654.03 462.82M646.63 462.82L654.03 455.42M649.46 453.53L656.86 460.93M649.46 460.93L656.86 453.53M652.47 452.11L659.87 459.51M652.47 459.51L659.87 452.11M655.83 451.58L663.23 458.98M655.83 458.98L663.23 451.58M659.18 451.04L666.58 458.44M659.18 458.44L666.58 451.04M662.54 450.5L669.94 457.9M662.54 457.9L669.94 450.5M665.9 449.96L673.3 457.36M665.9 457.36L673.3 449.96M669.25 449.43L676.65 456.83M669.25 456.83L676.65 449.43M672.61 448.89L680.01 456.29M672.61 456.29L680.01 448.89M675.97 448.35L683.37 455.75M675.97 455.75L683.37 448.35M679.33 447.82L686.73 455.22M679.33 455.22L686.73 447.82M682.68 447.28L690.08 454.68M682.68 454.68L690.08 447.28M686.04 446.74L693.44 454.14M686.04 454.14L693.44 446.74M689.4 446.2L696.8 453.6M689.4 453.6L696.8 446.2M692.76 445.67L700.16 453.07M692.76 453.07L700.16 445.67M696.11 445.13L703.51 452.53M696.11 452.53L703.51 445.13M699.47 444.59L706.87 451.99M699.47 451.99L706.87 444.59M702.83 444.09L710.23 451.49M702.83 451.49L710.23 444.09M706.2 443.61L713.6 451.01M706.2 451.01L713.6 443.61M709.57 443.14L716.97 450.54M709.57 450.54L716.97 443.14M712.93 442.67L720.33 450.07M712.93 450.07L720.33 442.67M716.3 442.2L723.7 449.6M716.3 449.6L723.7 442.2M719.67 441.73L727.07 449.13M719.67 449.13L727.07 441.73M723.04 441.26L730.44 448.66M723.04 448.66L730.44 441.26M726.4 440.79L733.8 448.19M726.4 448.19L733.8 440.79M729.78 440.42L737.18 447.82M729.78 447.82L737.18 440.42M733.16 440.05L740.56 447.45M733.16 447.45L740.56 440.05M736.54 439.69L743.94 447.09M736.54 447.09L743.94 439.69M739.92 439.32L747.32 446.72M739.92 446.72L747.32 439.32M743.3 438.95L750.7 446.35M743.3 446.35L750.7 438.95M746.68 438.58L754.08 445.98M746.68 445.98L754.08 438.58M753.3 413.3L760.7 420.7M753.3 420.7L760.7 413.3M756.7 413.15L764.1 420.55M756.7 420.55L764.1 413.15M760.09 412.99L767.49 420.39M760.09 420.39L767.49 412.99M763.49 412.84L770.89 420.24M763.49 420.24L770.89 412.84M766.89 412.68L774.29 420.08M766.89 420.08L774.29 412.68M770.28 412.53L777.68 419.93M770.28 419.93L777.68 412.53M773.68 412.37L781.08 419.77M773.68 419.77L781.08 412.37M777.08 412.22L784.48 419.62M777.08 419.62L784.48 412.22M780.47 412.06L787.87 419.46M780.47 419.46L787.87 412.06M783.87 411.91L791.27 419.31M783.87 419.31L791.27 411.91M787.26 411.73L794.66 419.13M787.26 419.13L794.66 411.73M790.66 411.5L798.06 418.9M790.66 418.9L798.06 411.5M794.05 411.26L801.45 418.66M794.05 418.66L801.45 411.26M797.44 411.03L804.84 418.43M797.44 418.43L804.84 411.03M800.83 410.79L808.23 418.19M800.83 418.19L808.23 410.79M804.22 410.56L811.62 417.96M804.22 417.96L811.62 410.56M807.61 410.32L815.01 417.72M807.61 417.72L815.01 410.32M811.01 410.08L818.41 417.48M811.01 417.48L818.41 410.08M814.4 409.85L821.8 417.25M814.4 417.25L821.8 409.85M817.79 409.61L825.19 417.01M817.79 417.01L825.19 409.61M821.18 409.38L828.58 416.78M821.18 416.78L828.58 409.38M758.3 417.3L765.7 424.7M758.3 424.7L765.7 417.3M761.7 417.21L769.1 424.61M761.7 424.61L769.1 417.21M765.1 417.12L772.5 424.52M765.1 424.52L772.5 417.12M768.5 417.03L775.9 424.43M768.5 424.43L775.9 417.03M771.9 416.94L779.3 424.34M771.9 424.34L779.3 416.94M775.29 416.85L782.69 424.25M775.29 424.25L782.69 416.85M778.69 416.76L786.09 424.16M778.69 424.16L786.09 416.76M782.09 416.67L789.49 424.07M782.09 424.07L789.49 416.67M785.49 416.58L792.89 423.98M785.49 423.98L792.89 416.58M788.89 416.5L796.29 423.9M788.89 423.9L796.29 416.5M792.29 416.41L799.69 423.81M792.29 423.81L799.69 416.41M795.69 416.32L803.09 423.72M795.69 423.72L803.09 416.32M800.3 424.3L807.7 431.7M800.3 431.7L807.7 424.3M803.7 424.38L811.1 431.78M803.7 431.78L811.1 424.38M807.1 424.45L814.5 431.85M807.1 431.85L814.5 424.45M810.5 424.53L817.9 431.93M810.5 431.93L817.9 424.53M813.9 424.61L821.3 432.01M813.9 432.01L821.3 424.61M817.3 424.69L824.7 432.09M817.3 432.09L824.7 424.69M820.69 424.76L828.09 432.16M820.69 432.16L828.09 424.76M802.3 417.3L809.7 424.7M802.3 424.7L809.7 417.3M805.64 416.67L813.04 424.07M805.64 424.07L813.04 416.67M808.98 416.05L816.38 423.45M808.98 423.45L816.38 416.05M812.33 415.42L819.73 422.82M812.33 422.82L819.73 415.42M815.67 414.79L823.07 422.19M815.67 422.19L823.07 414.79M626.3 462.3L633.7 469.7M626.3 469.7L633.7 462.3M629.7 462.27L637.1 469.67M629.7 469.67L637.1 462.27M633.1 462.24L640.5 469.64M633.1 469.64L640.5 462.24M636.5 462.22L643.9 469.62M636.5 469.62L643.9 462.22M639.9 462.19L647.3 469.59M639.9 469.59L647.3 462.19M643.3 462.16L650.7 469.56M643.3 469.56L650.7 462.16M646.7 462.13L654.1 469.53M646.7 469.53L654.1 462.13M650.1 462.1L657.5 469.5M650.1 469.5L657.5 462.1M653.5 462.07L660.9 469.47M653.5 469.47L660.9 462.07M656.9 462.05L664.3 469.45M656.9 469.45L664.3 462.05M660.3 462.02L667.7 469.42M660.3 469.42L667.7 462.02M663.7 461.99L671.1 469.39M663.7 469.39L671.1 461.99M667.1 461.96L674.5 469.36M667.1 469.36L674.5 461.96M670.5 461.93L677.9 469.33M670.5 469.33L677.9 461.93M673.9 461.9L681.3 469.3M673.9 469.3L681.3 461.9M677.3 461.88L684.7 469.28M677.3 469.28L684.7 461.88M680.7 461.85L688.1 469.25M680.7 469.25L688.1 461.85M684.1 461.82L691.5 469.22M684.1 469.22L691.5 461.82M651.3 466.3L658.7 473.7M651.3 473.7L658.7 466.3M654.25 464.61L661.65 472.01M654.25 472.01L661.65 464.61M657.2 462.93L664.6 470.33M657.2 470.33L664.6 462.93M704.8 476.5L712.2 483.9M704.8 483.9L712.2 476.5" stroke="#00bfbf" stroke-width="3.0" fill="none"/>
<path d="M469 473.2 L489 467.7" fill="none" stroke="#008000" stroke-width="3.3" stroke-linejoin="round"/>
<path d="M493.7 457.3 L506 457.9 L511 461.6 L517 462.2" fill="none" stroke="#008000" stroke-width="3.3" stroke-linejoin="round"/>
<path d="M616 467.7 L640 467 L653.4 460.3 L661.6 453.9 L695.6 450.4 L709.7 447.4 L730.8 444.5 L749.5 443.9 L761.3 417.5 L815.2 414 L805.8 424.6 L822 423.5" fill="none" stroke="#008000" stroke-width="3.3" stroke-linejoin="round"/>
<path d="M653.4 460.3 L672 457.5 L686.3 460 L709.7 480.2" fill="none" stroke="#008000" stroke-width="3.3" stroke-linejoin="round"/>
<path d="M98 440.5 L140 442 L180 447 L230 455 L290 461.5 L350 464.5 L400 465.3 L456 465.2" fill="none" stroke="#0000ff" stroke-width="3.3" stroke-dasharray="3.3 5.45"/>
<path d="M477.1 465.2 L521.3 465.2 L557.3 465.2 L593.1 465.2 L637.3 464.6 L681.6 465.6 L724.3 459.7 L775.3 444.5 L826.5 418.3" fill="none" stroke="#0000ff" stroke-width="2.8"/>
<circle cx="477.1" cy="465.2" r="4.3" fill="#0000ff"/>
<circle cx="521.3" cy="465.2" r="4.3" fill="#0000ff"/>
<circle cx="557.3" cy="465.2" r="4.3" fill="#0000ff"/>
<circle cx="593.1" cy="465.2" r="4.3" fill="#0000ff"/>
<circle cx="637.3" cy="464.6" r="4.3" fill="#0000ff"/>
<circle cx="681.6" cy="465.6" r="4.3" fill="#0000ff"/>
<circle cx="724.3" cy="459.7" r="4.3" fill="#0000ff"/>
<circle cx="775.3" cy="444.5" r="4.3" fill="#0000ff"/>
<circle cx="826.5" cy="418.3" r="4.3" fill="#0000ff"/>
<path d="M452 457.9L461 466.9M452 466.9L461 457.9" stroke="#ff0000" stroke-width="3.5" fill="none"/>
<path d="M456.5 462.4 L460 465.3 L482 465.3 L482.6 455.7 L484.5 465.5 L487.3 465.5 L487.8 457.3 L490.2 465.5 L491.8 456.4 L493.4 465.5 L627.5 465.3 L629 472 L647.6 471.4 L647.6 465 L652.3 466.2 L657.5 475 L674.5 466.8 L653.4 457.4 L659.3 454.5 L685.1 456.8 L685.1 452.1 L708.5 453.3 L709.5 457.4 L714.4 457.4 L716.7 445.1 L719 456.8 L723.8 456.8 L726.1 444.5 L729 455 L732 451 L733.1 455.6 L737.8 452.7 L736.1 460.3 L763.6 447.4 L773 416.4 L810.5 414 L811.1 410.5 L826.5 412.3" fill="none" stroke="#ff0000" stroke-width="3.3" stroke-linejoin="miter"/>
</g>
<rect x="99.5" y="101.4" width="728.1" height="728" fill="none" stroke="#000" stroke-width="2.78"/>
<rect x="436.2" y="109.8" width="384.6" height="187.8" rx="3.5" fill="#fff" fill-opacity="0.8" stroke="#ccc" stroke-opacity="0.8" stroke-width="2.78"/>
<rect x="453.6" y="117.6" width="9.6" height="9.6" fill="#bf00bf"/>
<text x="486.4" y="128" font-size="15.63" text-anchor="start" fill="#000">AMSU Locations [NOAAMC/1835Z 62 990]</text>
<rect x="453.6" y="140.34" width="9.6" height="9.6" fill="#bf00bf"/>
<text x="486.4" y="150.74" font-size="15.63" text-anchor="start" fill="#000">ARCHER Locations [0023Z]</text>
<path d="M454.7 164.18L462.1 171.58M454.7 171.58L462.1 164.18" stroke="#00bfbf" stroke-width="3" fill="none"/>
<text x="486.4" y="173.48" font-size="15.63" text-anchor="start" fill="#000">SATCON Locations [2110Z 76 982]</text>
<line x1="441.6" y1="190.62" x2="474.4" y2="190.62" stroke="#008000" stroke-width="3.3"/>
<text x="486.4" y="196.22" font-size="15.63" text-anchor="start" fill="#000">ADT Tracks [0110Z 92.4 968.8]</text>
<line x1="441.6" y1="213.36" x2="474.4" y2="213.36" stroke="#0000ff" stroke-width="3.3" stroke-dasharray="3.3 5.45"/>
<text x="486.4" y="218.96" font-size="15.63" text-anchor="start" fill="#000">JTWC/NHC Forecast [02/1800Z]</text>
<line x1="441.6" y1="236.1" x2="474.4" y2="236.1" stroke="#0000ff" stroke-width="2.8"/>
<circle cx="458.4" cy="236.1" r="4.3" fill="#0000ff"/>
<text x="486.4" y="241.7" font-size="15.63" text-anchor="start" fill="#000">JTWC/NHC Tracks [03/0000Z]</text>
<path d="M453.9 254.34L462.9 263.34M453.9 263.34L462.9 254.34" stroke="#ff0000" stroke-width="3.5" fill="none"/>
<text x="486.4" y="264.44" font-size="15.63" text-anchor="start" fill="#000">MESOSCALE/TARGET Location</text>
<line x1="441.6" y1="281.58" x2="474.4" y2="281.58" stroke="#ff0000" stroke-width="3.3"/>
<text x="486.4" y="287.18" font-size="15.63" text-anchor="start" fill="#000">Floater Locater</text>
<rect x="97.3" y="803.2" width="312.7" height="28" rx="4" fill="#000"/>
<text x="102.4" y="821.7" font-size="17.36" text-anchor="start" font-weight="bold" fill="#fff">Copyright © 2020-2025 Dapiya</text>
<text x="127.1" y="851" font-size="13.55" text-anchor="middle" fill="#000">134°W</text>
<text x="272.9" y="851" font-size="13.55" text-anchor="middle" fill="#000">132°W</text>
<text x="418.7" y="851" font-size="13.55" text-anchor="middle" fill="#000">130°W</text>
<text x="564.5" y="851" font-size="13.55" text-anchor="middle" fill="#000">128°W</text>
<text x="710.3" y="851" font-size="13.55" text-anchor="middle" fill="#000">126°W</text>
<text x="91.6" y="745.7" font-size="13.55" text-anchor="end" fill="#000">10°N</text>
<text x="91.6" y="600.2" font-size="13.55" text-anchor="end" fill="#000">12°N</text>
<text x="91.6" y="454.7" font-size="13.55" text-anchor="end" fill="#000">14°N</text>
<text x="91.6" y="309.2" font-size="13.55" text-anchor="end" fill="#000">16°N</text>
<text x="91.6" y="163.7" font-size="13.55" text-anchor="end" fill="#000">18°N</text>
<linearGradient id="cb1" x1="0" y1="0" x2="0" y2="1"><stop offset="0" stop-color="#000"/><stop offset="1" stop-color="#fff"/></linearGradient>
<rect x="835.6" y="101.3" width="14.2" height="728.3" fill="url(#cb1)" stroke="#000" stroke-width="1"/>
<text x="856.8" y="161.2" font-size="15.63" text-anchor="start" fill="#000">40</text>
<text x="856.8" y="215.25" font-size="15.63" text-anchor="start" fill="#000">30</text>
<text x="856.8" y="269.3" font-size="15.63" text-anchor="start" fill="#000">20</text>
<text x="856.8" y="323.35" font-size="15.63" text-anchor="start" fill="#000">10</text>
<text x="856.8" y="377.4" font-size="15.63" text-anchor="start" fill="#000">0</text>
<text x="856.8" y="431.45" font-size="15.63" text-anchor="start" fill="#000">−10</text>
<text x="856.8" y="485.5" font-size="15.63" text-anchor="start" fill="#000">−20</text>
<text x="856.8" y="539.55" font-size="15.63" text-anchor="start" fill="#000">−30</text>
<text x="856.8" y="593.6" font-size="15.63" text-anchor="start" fill="#000">−40</text>
<text x="856.8" y="647.65" font-size="15.63" text-anchor="start" fill="#000">−50</text>
<text x="856.8" y="701.7" font-size="15.63" text-anchor="start" fill="#000">−60</text>
<text x="856.8" y="755.75" font-size="15.63" text-anchor="start" fill="#000">−70</text>
<text x="856.8" y="809.8" font-size="15.63" text-anchor="start" fill="#000">−80</text>
<text x="844.6" y="94" font-size="15.63" text-anchor="start" fill="#000">°C</text>
<clipPath id="c2"><rect x="974.5" y="101.4" width="727.8" height="728"/></clipPath>
<g clip-path="url(#c2)">
<g clip-path="url(#wvq)"><g filter="url(#wvf)">
<rect x="940" y="70" width="800" height="790" fill="#b4b4b4"/>
<g filter="url(#wf0)">
<path d="M940 360 C956.67 286.67 1008.33 386.67 1040 380 C1071.67 373.33 1100 339.67 1130 320 C1160 300.33 1185 280 1220 262 C1255 244 1298.33 229 1340 212 C1381.67 195 1433.33 170.33 1470 160 C1506.67 149.67 1538.33 135 1560 150 C1581.67 165 1605 208.33 1600 250 C1595 291.67 1546.67 355 1530 400 C1513.33 445 1508.33 480 1500 520 C1491.67 560 1491.67 603.33 1480 640 C1468.33 676.67 1460 715 1430 740 C1400 765 1346.67 780 1300 790 C1253.33 800 1210 795 1150 800 C1090 805 975 893.33 940 820 C905 746.67 923.33 433.33 940 360Z" fill="#a4a4a4"/>
<ellipse cx="1010" cy="700" rx="50" ry="70" fill="#bababa" transform="rotate(-20 1010 700)"/>
<ellipse cx="1620" cy="130" rx="110" ry="40" fill="#bdbdbd"/>
</g>
<g filter="url(#wf1)">
<path d="M1440 50 C1490 38.33 1715 33.33 1770 50 C1825 66.67 1790 132 1770 150 C1750 168 1687.5 158.33 1650 158 C1612.5 157.67 1575 154.33 1545 148 C1515 141.67 1487.5 136.33 1470 120 C1452.5 103.67 1390 61.67 1440 50Z" fill="#c2c2c2"/>
<ellipse cx="1590" cy="640" rx="90" ry="200" fill="#b8b8b8"/>
</g>
<g filter="url(#wf2)">
<path d="M880 20 C995 -40 1471.33 6 1570 20 C1668.67 34 1500 87 1472 104 C1444 121 1424.5 117 1402 122 C1379.5 127 1358.33 126.67 1337 134 C1315.67 141.33 1295.33 154.5 1274 166 C1252.67 177.5 1230.67 188.83 1209 203 C1187.33 217.17 1162 237.67 1144 251 C1126 264.33 1115.33 272.83 1101 283 C1086.67 293.17 1072.5 303.67 1058 312 C1043.5 320.33 1026.67 327.67 1014 333 C1001.33 338.33 1004.33 336.17 982 344 C959.67 351.83 897 434 880 380 C863 326 765 80 880 20Z" fill="#e6e6e6"/>
<path d="M880 20 C966.67 -28 1331.67 8 1400 20 C1468.33 32 1325 71.67 1290 92 C1255 112.33 1223.33 122 1190 142 C1156.67 162 1123.33 190.33 1090 212 C1056.67 233.67 1025 256 990 272 C955 288 898.33 350 880 308 C861.67 266 793.33 68 880 20Z" fill="#ebebeb"/>
</g>
<g filter="url(#wf3)">
<path d="M1292 290 C1268.33 296.67 1249 313 1228 330 C1207 347 1181.5 370 1166 392 C1150.5 414 1140.67 437.33 1135 462 C1129.33 486.67 1126.5 515.33 1132 540 C1137.5 564.67 1150.83 589.67 1168 610 C1185.17 630.33 1209.67 648.33 1235 662 C1260.33 675.67 1293.83 690.67 1320 692 C1346.17 693.33 1372.83 683.67 1392 670 C1411.17 656.33 1424.5 633.33 1435 610 C1445.5 586.67 1452.83 556.67 1455 530 C1457.17 503.33 1445.17 472.5 1448 450 C1450.83 427.5 1463.33 414.17 1472 395 C1480.67 375.83 1505.33 350 1500 335 C1494.67 320 1461.67 312.5 1440 305 C1418.33 297.5 1394.67 292.5 1370 290 C1345.33 287.5 1315.67 283.33 1292 290Z" fill="#8a8a8a"/>
<path d="M985 430 C994.17 407.5 1027.5 390.83 1050 385 C1072.5 379.17 1103.33 380.83 1120 395 C1136.67 409.17 1148.33 444.17 1150 470 C1151.67 495.83 1145 535 1130 550 C1115 565 1082.5 565 1060 560 C1037.5 555 1007.5 541.67 995 520 C982.5 498.33 975.83 452.5 985 430Z" fill="#929292"/>
<ellipse cx="1180" cy="560" rx="70" ry="40" fill="#8a8a8a" transform="rotate(30 1180 560)"/>
<ellipse cx="1300" cy="680" rx="95" ry="35" fill="#929292" transform="rotate(-8 1300 680)"/>
<ellipse cx="1400" cy="640" rx="40" ry="55" fill="#878787" transform="rotate(35 1400 640)"/>
</g>
<g filter="url(#wf4)">
<path d="M1284 304 C1267.67 310.67 1254 326 1242 340 C1230 354 1219.67 371 1212 388 C1204.33 405 1199.33 423.33 1196 442 C1192.67 460.67 1195 485.33 1192 500 C1189 514.67 1174.17 520 1178 530 C1181.83 540 1203 550 1215 560 C1227 570 1235.83 583.83 1250 590 C1264.17 596.17 1284.17 597 1300 597 C1315.83 597 1331.67 595.33 1345 590 C1358.33 584.67 1368.33 576.67 1380 565 C1391.67 553.33 1405 535.83 1415 520 C1425 504.17 1435 488.33 1440 470 C1445 451.67 1440 425 1445 410 C1450 395 1462.17 393.33 1470 380 C1477.83 366.67 1493.67 340.33 1492 330 C1490.33 319.67 1475.33 319.33 1460 318 C1444.67 316.67 1420 325 1400 322 C1380 319 1359.33 303 1340 300 C1320.67 297 1300.33 297.33 1284 304Z" fill="#757575"/>
</g>
<g filter="url(#wf5)">
<path d="M1290 345 C1273.33 349 1260.67 367.83 1250 382 C1239.33 396.17 1230.67 412 1226 430 C1221.33 448 1219.67 471.67 1222 490 C1224.33 508.33 1230.33 525.83 1240 540 C1249.67 554.17 1263.33 568 1280 575 C1296.67 582 1324.17 584.5 1340 582 C1355.83 579.5 1364.17 570.33 1375 560 C1385.83 549.67 1396.17 535 1405 520 C1413.83 505 1423.5 486.67 1428 470 C1432.5 453.33 1436.67 434.67 1432 420 C1427.33 405.33 1413.67 392.33 1400 382 C1386.33 371.67 1368.33 364.17 1350 358 C1331.67 351.83 1306.67 341 1290 345Z" fill="#5d5d5d"/>
<ellipse cx="1436" cy="346" rx="42" ry="22" fill="#575757" transform="rotate(5 1436 346)"/>
<ellipse cx="1296" cy="556" rx="62" ry="22" fill="#545454" transform="rotate(8 1296 556)"/>
<ellipse cx="1290" cy="318" rx="22" ry="10" fill="#626262" transform="rotate(-20 1290 318)"/>
</g>
<g filter="url(#wf6)">
<path d="M1241 427 C1244.5 415.67 1253.83 407.17 1262 400 C1270.17 392.83 1278.5 389 1290 384 C1301.5 379 1317.33 371 1331 370 C1344.67 369 1358.33 373.5 1372 378 C1385.67 382.5 1403.83 388.83 1413 397 C1422.17 405.17 1424.67 415.17 1427 427 C1429.33 438.83 1430.17 454.33 1427 468 C1423.83 481.67 1417.17 497.67 1408 509 C1398.83 520.33 1384.83 530.17 1372 536 C1359.17 541.83 1344.67 544 1331 544 C1317.33 544 1302.17 541.83 1290 536 C1277.83 530.17 1266.17 520.33 1258 509 C1249.83 497.67 1243.83 481.67 1241 468 C1238.17 454.33 1237.5 438.33 1241 427Z" fill="#404040"/>
</g>
<g filter="url(#wf7)">
<path d="M1377.6 404.6 C1385.05 404.6 1390.8 408.23 1396.7 413.3 C1402.6 418.37 1410.05 428.65 1413 435 C1415.95 441.35 1415.77 444.58 1414.4 451.4 C1413.03 458.22 1409.12 467.73 1404.8 475.9 C1400.48 484.07 1394.85 493.38 1388.5 500.4 C1382.15 507.42 1374.87 513.9 1366.7 518 C1358.53 522.1 1347.67 524.75 1339.5 525 C1331.33 525.25 1324.05 523.17 1317.7 519.5 C1311.35 515.83 1305.93 508.92 1301.4 503 C1296.87 497.08 1292.07 488.83 1290.5 484 C1288.93 479.17 1288.75 476.5 1292 474 C1295.25 471.5 1303.43 471 1310 469 C1316.57 467 1326.93 464.83 1331.4 462 C1335.87 459.17 1336.53 455.58 1336.8 452 C1337.07 448.42 1332.8 444.68 1333 440.5 C1333.2 436.32 1334.83 431.43 1338 426.9 C1341.17 422.37 1345.4 417.02 1352 413.3 C1358.6 409.58 1370.15 404.6 1377.6 404.6Z" fill="#040404"/>
</g>
<g filter="url(#wf8)">
<ellipse cx="1112" cy="478" rx="26" ry="18" fill="#787878" transform="rotate(30 1112 478)"/>
<ellipse cx="1100" cy="474" rx="9" ry="8" fill="#626262"/>
<ellipse cx="1029" cy="427" rx="8" ry="14" fill="#787878" transform="rotate(10 1029 427)"/>
<ellipse cx="1051" cy="406" rx="8" ry="9" fill="#757575"/>
<ellipse cx="1082" cy="431" rx="7" ry="7" fill="#6a6a6a"/>
<ellipse cx="1205" cy="508" rx="40" ry="8" fill="#6d6d6d" transform="rotate(38 1205 508)"/>
<ellipse cx="1148" cy="523" rx="10" ry="5" fill="#575757"/>
<ellipse cx="1050" cy="513" rx="9" ry="9" fill="#3a3a3a"/>
<ellipse cx="1060" cy="520" rx="16" ry="12" fill="#545454" transform="rotate(20 1060 520)"/>
<ellipse cx="1040" cy="505" rx="10" ry="10" fill="#666666"/>
<ellipse cx="1085" cy="530" rx="12" ry="8" fill="#5b5b5b"/>
<ellipse cx="1023" cy="456" rx="6" ry="5" fill="#3a3a3a"/>
<ellipse cx="983" cy="478" rx="6" ry="18" fill="#666666"/>
<ellipse cx="1155" cy="411" rx="10" ry="17" fill="#494949"/>
<ellipse cx="1205" cy="350" rx="10" ry="16" fill="#5b5b5b"/>
<ellipse cx="1215" cy="390" rx="12" ry="10" fill="#666666" transform="rotate(10 1215 390)"/>
<ellipse cx="1070" cy="400" rx="16" ry="8" fill="#808080" transform="rotate(-20 1070 400)"/>
<ellipse cx="1100" cy="432" rx="12" ry="8" fill="#717171"/>
<ellipse cx="1030" cy="420" rx="12" ry="22" fill="#878787" transform="rotate(10 1030 420)"/>
<ellipse cx="1000" cy="380" rx="14" ry="18" fill="#929292"/>
<ellipse cx="1477" cy="247" rx="4" ry="4" fill="#5f5f5f"/>
<ellipse cx="1500" cy="262" rx="4" ry="4" fill="#5f5f5f"/>
<ellipse cx="1425" cy="232" rx="10" ry="4" fill="#7c7c7c" transform="rotate(-20 1425 232)"/>
<ellipse cx="1412" cy="245" rx="14" ry="5" fill="#8a8a8a" transform="rotate(-35 1412 245)"/>
<ellipse cx="1355" cy="280" rx="14" ry="9" fill="#787878" transform="rotate(-10 1355 280)"/>
<ellipse cx="1395" cy="268" rx="5" ry="3" fill="#6d6d6d"/>
<ellipse cx="1686" cy="210" rx="3" ry="14" fill="#7c7c7c" transform="rotate(-8 1686 210)"/>
<ellipse cx="1680" cy="180" rx="2" ry="8" fill="#8a8a8a" transform="rotate(-8 1680 180)"/>
<ellipse cx="1535" cy="500" rx="16" ry="12" fill="#929292" transform="rotate(30 1535 500)"/>
<ellipse cx="1560" cy="493" rx="2.5" ry="2.5" fill="#666666"/>
<ellipse cx="1598" cy="517" rx="12" ry="4" fill="#7c7c7c" transform="rotate(-25 1598 517)"/>
<ellipse cx="1638" cy="500" rx="3" ry="2" fill="#7c7c7c"/>
<ellipse cx="1557" cy="548" rx="12" ry="4" fill="#8e8e8e" transform="rotate(-25 1557 548)"/>
<ellipse cx="1590" cy="535" rx="3" ry="4" fill="#8a8a8a"/>
<ellipse cx="1465" cy="520" rx="9" ry="9" fill="#808080"/>
<ellipse cx="1360" cy="695" rx="5" ry="5" fill="#6d6d6d"/>
<ellipse cx="1240" cy="510" rx="18" ry="7" fill="#5f5f5f" transform="rotate(35 1240 510)"/>
<ellipse cx="1200" cy="527" rx="5" ry="4" fill="#424242"/>
<ellipse cx="1150" cy="525" rx="8" ry="4" fill="#505050"/>
<ellipse cx="1115" cy="608" rx="12" ry="4" fill="#7c7c7c" transform="rotate(30 1115 608)"/>
<ellipse cx="1112" cy="628" rx="6" ry="5" fill="#8a8a8a"/>
<ellipse cx="1215" cy="730" rx="50" ry="6" fill="#8e8e8e" transform="rotate(-5 1215 730)"/>
<ellipse cx="1030" cy="560" rx="18" ry="5" fill="#959595" transform="rotate(10 1030 560)"/>
<ellipse cx="1405" cy="625" rx="18" ry="8" fill="#6a6a6a" transform="rotate(-30 1405 625)"/>
<ellipse cx="1390" cy="655" rx="22" ry="6" fill="#787878" transform="rotate(-30 1390 655)"/>
<ellipse cx="1440" cy="560" rx="10" ry="30" fill="#838383" transform="rotate(5 1440 560)"/>
<ellipse cx="1260" cy="672" rx="18" ry="5" fill="#838383" transform="rotate(-20 1260 672)"/>
<ellipse cx="1185" cy="610" rx="30" ry="14" fill="#8e8e8e" transform="rotate(20 1185 610)"/>
</g>
</g></g>
<line x1="1002.4" y1="829.45" x2="1002.4" y2="101.4" stroke="#fff" stroke-width="2.08" stroke-dasharray="2.08 3.44"/>
<line x1="1148.2" y1="829.45" x2="1148.2" y2="101.4" stroke="#fff" stroke-width="2.08" stroke-dasharray="2.08 3.44"/>
<line x1="1294" y1="829.45" x2="1294" y2="101.4" stroke="#fff" stroke-width="2.08" stroke-dasharray="2.08 3.44"/>
<line x1="1439.8" y1="829.45" x2="1439.8" y2="101.4" stroke="#fff" stroke-width="2.08" stroke-dasharray="2.08 3.44"/>
<line x1="1585.6" y1="829.45" x2="1585.6" y2="101.4" stroke="#fff" stroke-width="2.08" stroke-dasharray="2.08 3.44"/>
<line x1="974.5" y1="741.8" x2="1702.3" y2="741.8" stroke="#fff" stroke-width="2.08" stroke-dasharray="2.08 3.44"/>
<line x1="974.5" y1="596.3" x2="1702.3" y2="596.3" stroke="#fff" stroke-width="2.08" stroke-dasharray="2.08 3.44"/>
<line x1="974.5" y1="450.8" x2="1702.3" y2="450.8" stroke="#fff" stroke-width="2.08" stroke-dasharray="2.08 3.44"/>
<line x1="974.5" y1="305.3" x2="1702.3" y2="305.3" stroke="#fff" stroke-width="2.08" stroke-dasharray="2.08 3.44"/>
<line x1="974.5" y1="159.8" x2="1702.3" y2="159.8" stroke="#fff" stroke-width="2.08" stroke-dasharray="2.08 3.44"/>
</g>
<rect x="974.5" y="101.4" width="727.8" height="728.05" fill="none" stroke="#000" stroke-width="2.78"/>
<text x="1002.6" y="851" font-size="13.55" text-anchor="middle" fill="#000">134°W</text>
<text x="1148.4" y="851" font-size="13.55" text-anchor="middle" fill="#000">132°W</text>
<text x="1294.2" y="851" font-size="13.55" text-anchor="middle" fill="#000">130°W</text>
<text x="1440" y="851" font-size="13.55" text-anchor="middle" fill="#000">128°W</text>
<text x="1585.8" y="851" font-size="13.55" text-anchor="middle" fill="#000">126°W</text>
<text x="967.3" y="745.7" font-size="13.55" text-anchor="end" fill="#000">10°N</text>
<text x="967.3" y="600.2" font-size="13.55" text-anchor="end" fill="#000">12°N</text>
<text x="967.3" y="454.7" font-size="13.55" text-anchor="end" fill="#000">14°N</text>
<text x="967.3" y="309.2" font-size="13.55" text-anchor="end" fill="#000">16°N</text>
<text x="967.3" y="163.7" font-size="13.55" text-anchor="end" fill="#000">18°N</text>
<linearGradient id="cb2" x1="0" y1="0" x2="0" y2="1"><stop offset="0%" stop-color="#ffffff"/><stop offset="33.33%" stop-color="#ffffff"/><stop offset="33.33%" stop-color="#5f1d7d"/><stop offset="36.67%" stop-color="#3b4bb0"/><stop offset="40%" stop-color="#1f66d8"/><stop offset="42.67%" stop-color="#0a7cff"/><stop offset="46.67%" stop-color="#3ba9ff"/><stop offset="51.33%" stop-color="#7ffbff"/><stop offset="53.33%" stop-color="#80ffd0"/><stop offset="55.33%" stop-color="#80ff80"/><stop offset="58%" stop-color="#c0ff78"/><stop offset="61.33%" stop-color="#ffff80"/><stop offset="65.33%" stop-color="#ffc850"/><stop offset="69.33%" stop-color="#ff8408"/><stop offset="73.33%" stop-color="#cc5010"/><stop offset="76%" stop-color="#a83008"/><stop offset="78.67%" stop-color="#800000"/><stop offset="100%" stop-color="#800000"/></linearGradient>
<rect x="1710.6" y="101.3" width="14" height="728.3" fill="url(#cb2)" stroke="#000" stroke-width="1"/>
<text x="1732.4" y="156.9" font-size="15.63" text-anchor="start" fill="#000">40</text>
<text x="1732.4" y="205.39" font-size="15.63" text-anchor="start" fill="#000">30</text>
<text x="1732.4" y="253.88" font-size="15.63" text-anchor="start" fill="#000">20</text>
<text x="1732.4" y="302.37" font-size="15.63" text-anchor="start" fill="#000">10</text>
<text x="1732.4" y="350.86" font-size="15.63" text-anchor="start" fill="#000">0</text>
<text x="1732.4" y="399.35" font-size="15.63" text-anchor="start" fill="#000">−10</text>
<text x="1732.4" y="447.84" font-size="15.63" text-anchor="start" fill="#000">−20</text>
<text x="1732.4" y="496.33" font-size="15.63" text-anchor="start" fill="#000">−30</text>
<text x="1732.4" y="544.82" font-size="15.63" text-anchor="start" fill="#000">−40</text>
<text x="1732.4" y="593.31" font-size="15.63" text-anchor="start" fill="#000">−50</text>
<text x="1732.4" y="641.8" font-size="15.63" text-anchor="start" fill="#000">−60</text>
<text x="1732.4" y="690.29" font-size="15.63" text-anchor="start" fill="#000">−70</text>
<text x="1732.4" y="738.78" font-size="15.63" text-anchor="start" fill="#000">−80</text>
<text x="1732.4" y="787.27" font-size="15.63" text-anchor="start" fill="#000">−90</text>
<text x="1719.8" y="93.6" font-size="15.63" text-anchor="start" fill="#000">°C</text>
<text x="98.6" y="51.3" font-size="26.04" text-anchor="start" fill="#000">GOES-18 BAND14-DIAS MESOSCALE</text>
<text x="98.6" y="81.5" font-size="26.04" text-anchor="start" fill="#000">Time: 2025/09/03 01:50:27Z</text>
<text x="1702" y="38.7" font-size="17.36" text-anchor="end" fill="#000">[dmax, dmin](BAND14)=(-61.28, -80.055)</text>
<text x="1702" y="59.6" font-size="17.36" text-anchor="end" fill="#000">[dmax, dmin](AWV)=(-60.738, -77.788)</text>
<text x="1702" y="80.6" font-size="17.36" text-anchor="end" fill="#000">11E.KIKO | 90kt, 970mb</text>
<text x="474" y="882" font-size="22.57" text-anchor="middle" fill="#000">Wind / Pres. / ACE Diagnosis</text>
<path d="M133.7 1636.1 L160.96 1636.1 L188.22 1636.1 L215.48 1636.1 L242.74 1636.1 L270 1636.1 L297.26 1636.1 L324.52 1636.1 L351.78 1636.1 L379.04 1636.1 L406.3 1636.1 L433.56 1636.1 L460.82 1636.1 L488.08 1636.1 L515.34 1636.1 L542.6 1625.12 L569.86 1614.14 L597.12 1599.79 L624.38 1585.45 L651.64 1567.29 L678.9 1540.17 L706.16 1513.06 L733.42 1475.18 L760.68 1424.75 L787.94 1367.37 L815.2 1294.76" fill="none" stroke="#008000" stroke-width="5.21" stroke-linecap="square" stroke-linejoin="round"/>
<path d="M133.7 1261.1 L160.96 1261.1 L188.22 1261.1 L215.48 1261.1 L242.74 1261.1 L270 1261.1 L297.26 1261.1 L324.52 1261.1 L351.78 1261.1 L379.04 1261.1 L406.3 1261.1 L433.56 1236.78 L460.82 1236.78 L488.08 1236.78 L515.34 1212.46 L542.6 1188.14 L569.86 1188.14 L597.12 1163.82 L624.38 1163.82 L651.64 1139.5 L678.9 1090.86 L706.16 1090.86 L733.42 1042.22 L760.68 993.58 L787.94 969.26 L815.2 920.62" fill="none" stroke="#0000ff" stroke-width="5.21" stroke-linecap="square" stroke-linejoin="round"/>
<rect x="109.7" y="912.6" width="212.3" height="35.5" rx="3.5" fill="#fff" fill-opacity="0.8" stroke="#ccc" stroke-opacity="0.8" stroke-width="3.2"/>
<line x1="116.8" y1="928.75" x2="155.4" y2="928.75" stroke="#0000ff" stroke-width="5.21" stroke-linecap="square"/>
<text x="170" y="936.45" font-size="19.1" text-anchor="start" fill="#000">Wind[max=90]</text>
<path d="M133.7 920.62 L160.96 920.62 L188.22 920.62 L215.48 920.62 L242.74 920.62 L270 920.62 L297.26 920.62 L324.52 920.62 L351.78 920.62 L379.04 920.62 L406.3 920.62 L433.56 920.62 L460.82 929.13 L488.08 929.13 L515.34 929.13 L542.6 946.16 L569.86 954.67 L597.12 971.69 L624.38 971.69 L651.64 1005.74 L678.9 1014.25 L706.16 1031.28 L733.42 1073.84 L760.68 1116.4 L787.94 1141.93 L815.2 1261.1" fill="none" stroke="#1f77b4" stroke-width="5.21" stroke-linecap="square" stroke-linejoin="round"/>
<rect x="622" y="912.6" width="218.4" height="35.5" rx="3.5" fill="#fff" fill-opacity="0.8" stroke="#ccc" stroke-opacity="0.8" stroke-width="3.2"/>
<line x1="629.1" y1="928.75" x2="667.7" y2="928.75" stroke="#1f77b4" stroke-width="5.21" stroke-linecap="square"/>
<text x="682.3" y="936.45" font-size="19.1" text-anchor="start" fill="#000">Pres.[min=970]</text>
<rect x="109.7" y="1287.3" width="244.3" height="35.5" rx="3.5" fill="#fff" fill-opacity="0.8" stroke="#ccc" stroke-opacity="0.8" stroke-width="3.2"/>
<line x1="116.8" y1="1303.45" x2="155.4" y2="1303.45" stroke="#008000" stroke-width="5.21" stroke-linecap="square"/>
<text x="170" y="1311.15" font-size="19.1" text-anchor="start" fill="#000">ACE[max=3.8075]</text>
<rect x="99.6" y="903.3" width="750" height="375.1" fill="none" stroke="#000" stroke-width="2.78"/>
<rect x="99.6" y="1278.4" width="750" height="375" fill="none" stroke="#000" stroke-width="2.78"/>
<line x1="87.45" y1="1261.1" x2="99.6" y2="1261.1" stroke="#000" stroke-width="2.78"/>
<text x="74.3" y="1266.1" font-size="13.5" text-anchor="end" fill="#000">20</text>
<line x1="87.45" y1="1212.46" x2="99.6" y2="1212.46" stroke="#000" stroke-width="2.78"/>
<text x="74.3" y="1217.46" font-size="13.5" text-anchor="end" fill="#000">30</text>
<line x1="87.45" y1="1163.82" x2="99.6" y2="1163.82" stroke="#000" stroke-width="2.78"/>
<text x="74.3" y="1168.82" font-size="13.5" text-anchor="end" fill="#000">40</text>
<line x1="87.45" y1="1115.18" x2="99.6" y2="1115.18" stroke="#000" stroke-width="2.78"/>
<text x="74.3" y="1120.18" font-size="13.5" text-anchor="end" fill="#000">50</text>
<line x1="87.45" y1="1066.54" x2="99.6" y2="1066.54" stroke="#000" stroke-width="2.78"/>
<text x="74.3" y="1071.54" font-size="13.5" text-anchor="end" fill="#000">60</text>
<line x1="87.45" y1="1017.9" x2="99.6" y2="1017.9" stroke="#000" stroke-width="2.78"/>
<text x="74.3" y="1022.9" font-size="13.5" text-anchor="end" fill="#000">70</text>
<line x1="87.45" y1="969.26" x2="99.6" y2="969.26" stroke="#000" stroke-width="2.78"/>
<text x="74.3" y="974.26" font-size="13.5" text-anchor="end" fill="#000">80</text>
<line x1="87.45" y1="920.62" x2="99.6" y2="920.62" stroke="#000" stroke-width="2.78"/>
<text x="74.3" y="925.62" font-size="13.5" text-anchor="end" fill="#000">90</text>
<line x1="849.6" y1="1261.1" x2="861.75" y2="1261.1" stroke="#000" stroke-width="2.78"/>
<text x="874.5" y="1266.1" font-size="13.3" text-anchor="start" fill="#000">970</text>
<line x1="849.6" y1="1218.54" x2="861.75" y2="1218.54" stroke="#000" stroke-width="2.78"/>
<text x="874.5" y="1223.54" font-size="13.3" text-anchor="start" fill="#000">975</text>
<line x1="849.6" y1="1175.98" x2="861.75" y2="1175.98" stroke="#000" stroke-width="2.78"/>
<text x="874.5" y="1180.98" font-size="13.3" text-anchor="start" fill="#000">980</text>
<line x1="849.6" y1="1133.42" x2="861.75" y2="1133.42" stroke="#000" stroke-width="2.78"/>
<text x="874.5" y="1138.42" font-size="13.3" text-anchor="start" fill="#000">985</text>
<line x1="849.6" y1="1090.86" x2="861.75" y2="1090.86" stroke="#000" stroke-width="2.78"/>
<text x="874.5" y="1095.86" font-size="13.3" text-anchor="start" fill="#000">990</text>
<line x1="849.6" y1="1048.3" x2="861.75" y2="1048.3" stroke="#000" stroke-width="2.78"/>
<text x="874.5" y="1053.3" font-size="13.3" text-anchor="start" fill="#000">995</text>
<line x1="849.6" y1="1005.74" x2="861.75" y2="1005.74" stroke="#000" stroke-width="2.78"/>
<text x="874.5" y="1010.74" font-size="13.3" text-anchor="start" fill="#000">1000</text>
<line x1="849.6" y1="963.18" x2="861.75" y2="963.18" stroke="#000" stroke-width="2.78"/>
<text x="874.5" y="968.18" font-size="13.3" text-anchor="start" fill="#000">1005</text>
<line x1="849.6" y1="920.62" x2="861.75" y2="920.62" stroke="#000" stroke-width="2.78"/>
<text x="874.5" y="925.62" font-size="13.3" text-anchor="start" fill="#000">1010</text>
<line x1="87.45" y1="1636.1" x2="99.6" y2="1636.1" stroke="#000" stroke-width="2.78"/>
<text x="74.7" y="1641.1" font-size="13.5" text-anchor="end" fill="#000">0.0</text>
<line x1="87.45" y1="1591.27" x2="99.6" y2="1591.27" stroke="#000" stroke-width="2.78"/>
<text x="74.7" y="1596.27" font-size="13.5" text-anchor="end" fill="#000">0.5</text>
<line x1="87.45" y1="1546.45" x2="99.6" y2="1546.45" stroke="#000" stroke-width="2.78"/>
<text x="74.7" y="1551.45" font-size="13.5" text-anchor="end" fill="#000">1.0</text>
<line x1="87.45" y1="1501.62" x2="99.6" y2="1501.62" stroke="#000" stroke-width="2.78"/>
<text x="74.7" y="1506.62" font-size="13.5" text-anchor="end" fill="#000">1.5</text>
<line x1="87.45" y1="1456.8" x2="99.6" y2="1456.8" stroke="#000" stroke-width="2.78"/>
<text x="74.7" y="1461.8" font-size="13.5" text-anchor="end" fill="#000">2.0</text>
<line x1="87.45" y1="1411.97" x2="99.6" y2="1411.97" stroke="#000" stroke-width="2.78"/>
<text x="74.7" y="1416.97" font-size="13.5" text-anchor="end" fill="#000">2.5</text>
<line x1="87.45" y1="1367.15" x2="99.6" y2="1367.15" stroke="#000" stroke-width="2.78"/>
<text x="74.7" y="1372.15" font-size="13.5" text-anchor="end" fill="#000">3.0</text>
<line x1="87.45" y1="1322.32" x2="99.6" y2="1322.32" stroke="#000" stroke-width="2.78"/>
<text x="74.7" y="1327.32" font-size="13.5" text-anchor="end" fill="#000">3.5</text>
<text x="0" y="0" font-size="13.5" text-anchor="middle" fill="#000" transform="translate(39.5 1092.4) rotate(-90)">Wind</text>
<text x="0" y="0" font-size="13.5" text-anchor="middle" fill="#000" transform="translate(34.6 1467) rotate(-90)">ACE</text>
<text x="0" y="0" font-size="13.5" text-anchor="middle" fill="#000" transform="translate(933.6 1092.6) rotate(-90)">Pressure</text>
<rect x="975.8" y="904.7" width="747.4" height="747.3" fill="#fff"/>
<clipPath id="c5"><rect x="975.8" y="904.7" width="747.4" height="747.3"/></clipPath>
<g clip-path="url(#c5)" shape-rendering="crispEdges">
<rect x="975.8" y="904.7" width="353.1" height="13.3" fill="#000000"/>
<rect x="975.8" y="918" width="353.1" height="14.75" fill="#000000"/>
<rect x="975.8" y="932.75" width="338.1" height="14.15" fill="#000000"/>
<rect x="975.8" y="946.9" width="309.1" height="15" fill="#000000"/>
<rect x="975.8" y="961.9" width="308.1" height="14" fill="#000000"/>
<rect x="975.8" y="975.9" width="322" height="13.8" fill="#000000"/>
<rect x="975.8" y="989.7" width="307" height="15.2" fill="#000000"/>
<rect x="975.8" y="1004.9" width="321.1" height="13.1" fill="#000000"/>
<rect x="975.8" y="1018" width="320.1" height="14.7" fill="#000000"/>
<rect x="975.8" y="1032.7" width="291.1" height="13.8" fill="#000000"/>
<rect x="975.8" y="1046.5" width="291.1" height="14.3" fill="#000000"/>
<rect x="975.8" y="1060.8" width="290" height="14.3" fill="#000000"/>
<rect x="975.8" y="1075.1" width="275" height="14.2" fill="#000000"/>
<rect x="975.8" y="1089.3" width="275" height="14.8" fill="#000000"/>
<rect x="975.8" y="1104.1" width="273.9" height="14.6" fill="#000000"/>
<rect x="975.8" y="1118.7" width="288.1" height="13.9" fill="#000000"/>
<rect x="975.8" y="1132.6" width="301" height="14.2" fill="#000000"/>
<rect x="975.8" y="1146.8" width="315.1" height="14.2" fill="#000000"/>
<rect x="975.8" y="1160" width="314.5" height="29.8" fill="#000000"/>
<rect x="975.8" y="1189.8" width="356.2" height="14.2" fill="#000000"/>
<rect x="975.8" y="1204" width="355.1" height="29" fill="#000000"/>
<rect x="975.8" y="1233" width="354.2" height="28" fill="#000000"/>
<rect x="975.8" y="1261" width="353.1" height="14.4" fill="#000000"/>
<rect x="975.8" y="1275.4" width="252.9" height="14.6" fill="#000000"/>
<rect x="975.8" y="1290" width="239.2" height="14.7" fill="#000000"/>
<rect x="975.8" y="1304.7" width="210.1" height="13.8" fill="#000000"/>
<rect x="975.8" y="1318.5" width="195" height="14.3" fill="#000000"/>
<rect x="975.8" y="1332.8" width="194.1" height="14.3" fill="#000000"/>
<rect x="975.8" y="1347.1" width="208.1" height="14.7" fill="#000000"/>
<rect x="975.8" y="1361.8" width="66.1" height="14.6" fill="#000000"/>
<rect x="1113" y="1361.8" width="55.9" height="14.6" fill="#000000"/>
<rect x="1126" y="1376.4" width="14.8" height="13.2" fill="#000000"/>
<rect x="1102" y="904.7" width="28.1" height="12.1" fill="#a0a0a0"/>
<rect x="1166.9" y="934" width="33.1" height="14.1" fill="#a0a0a0"/>
<rect x="1157.1" y="948.1" width="56.9" height="13.8" fill="#a0a0a0"/>
<rect x="1114" y="949.3" width="15" height="13.5" fill="#a0a0a0"/>
<rect x="1156.1" y="961.9" width="57" height="14.1" fill="#a0a0a0"/>
<rect x="1142.1" y="976.9" width="41.8" height="14" fill="#a0a0a0"/>
<rect x="1049.4" y="1149" width="14.6" height="28" fill="#a0a0a0"/>
<rect x="1048.9" y="1177" width="42.1" height="27.8" fill="#a0a0a0"/>
<rect x="1048.2" y="1204.8" width="27.5" height="15" fill="#a0a0a0"/>
<rect x="1047.1" y="1219.8" width="28.6" height="14.1" fill="#a0a0a0"/>
<rect x="1146" y="1219.8" width="14.9" height="14.1" fill="#a0a0a0"/>
<rect x="1175.2" y="1219.8" width="13.7" height="14.1" fill="#a0a0a0"/>
<rect x="1061.1" y="1233.9" width="126.9" height="14" fill="#a0a0a0"/>
<rect x="1060.2" y="1247.9" width="84.6" height="14.3" fill="#a0a0a0"/>
<rect x="1174.1" y="1247.9" width="55.9" height="14.3" fill="#a0a0a0"/>
<rect x="1173.1" y="1262.2" width="28.8" height="13.5" fill="#a0a0a0"/>
<rect x="977" y="1191.9" width="43.1" height="13.9" fill="#a0a0a0"/>
<rect x="1005.1" y="1205.8" width="28.8" height="14" fill="#a0a0a0"/>
<rect x="1244.9" y="1233.2" width="28.1" height="13.7" fill="#a0a0a0"/>
<rect x="1429.2" y="904.7" width="50.8" height="13.3" fill="#888888"/>
<rect x="1414.2" y="918" width="65.8" height="14.75" fill="#888888"/>
<rect x="1399.1" y="932.75" width="80.9" height="14.15" fill="#888888"/>
<rect x="1384.1" y="946.9" width="95.9" height="29" fill="#888888"/>
<rect x="1369.1" y="975.9" width="110.9" height="13.8" fill="#888888"/>
<rect x="1382.3" y="989.7" width="42.5" height="15.2" fill="#888888"/>
<rect x="1468" y="989.7" width="12" height="15.2" fill="#888888"/>
<rect x="1382.3" y="1004.9" width="27.3" height="13.1" fill="#888888"/>
<rect x="1339" y="1018" width="13.7" height="14.7" fill="#888888"/>
<rect x="1352.2" y="1032.7" width="14.6" height="13.8" fill="#888888"/>
<rect x="1366.2" y="1046.5" width="13.5" height="14.3" fill="#888888"/>
<rect x="1437.2" y="1046.5" width="42.8" height="14.3" fill="#888888"/>
<rect x="1451" y="1060.8" width="29" height="14.3" fill="#888888"/>
<rect x="1365" y="1075.1" width="14" height="14.2" fill="#888888"/>
<rect x="1407.1" y="1075.1" width="14.7" height="14.2" fill="#888888"/>
<rect x="1449.9" y="1075.1" width="30.1" height="14.2" fill="#888888"/>
<rect x="1407.1" y="1089.3" width="72.9" height="14.8" fill="#888888"/>
<rect x="1420.2" y="1104.1" width="56.5" height="14.6" fill="#888888"/>
<rect x="1448.1" y="1118.7" width="14.9" height="13.9" fill="#888888"/>
<rect x="1476" y="904.7" width="248" height="255.3" fill="#888888"/>
<rect x="1598.9" y="904.7" width="114.3" height="12.1" fill="#ffffff"/>
<rect x="1612.8" y="916.8" width="111.2" height="14" fill="#ffffff"/>
<rect x="1668.8" y="930.8" width="29.3" height="14.2" fill="#ffffff"/>
<rect x="1496.7" y="959.7" width="43.5" height="14.3" fill="#ffffff"/>
<rect x="1568.9" y="959.7" width="14.1" height="14.3" fill="#ffffff"/>
<rect x="1496.7" y="974" width="99.2" height="14.4" fill="#ffffff"/>
<rect x="1496" y="988.4" width="99.9" height="14.6" fill="#ffffff"/>
<rect x="1476" y="1003" width="5" height="14.2" fill="#ffffff"/>
<rect x="1496" y="1003" width="128" height="14.2" fill="#ffffff"/>
<rect x="1476" y="1017.2" width="176.1" height="13.8" fill="#ffffff"/>
<rect x="1476" y="1031" width="75.1" height="14.8" fill="#ffffff"/>
<rect x="1707.9" y="1031" width="14.3" height="14.8" fill="#ffffff"/>
<rect x="1649.9" y="1059" width="14" height="14.9" fill="#ffffff"/>
<rect x="1663.1" y="1073.9" width="15" height="13.9" fill="#ffffff"/>
<rect x="1476.8" y="1102.9" width="15.3" height="14.3" fill="#ffffff"/>
<rect x="1476" y="1117.2" width="58.2" height="14.2" fill="#ffffff"/>
<rect x="1476" y="1131.4" width="57.1" height="14.6" fill="#ffffff"/>
<rect x="1476" y="1146" width="42.1" height="14" fill="#ffffff"/>
<rect x="1446.9" y="1161.2" width="14" height="13.8" fill="#888888"/>
<rect x="1446.2" y="1175" width="13.8" height="13.9" fill="#888888"/>
<rect x="1460" y="1188.9" width="14" height="13.9" fill="#888888"/>
<rect x="1472.2" y="1232.1" width="7.8" height="27.8" fill="#888888"/>
<rect x="1457" y="1259.9" width="23" height="15.1" fill="#888888"/>
<rect x="1455.9" y="1275" width="24.1" height="13.9" fill="#888888"/>
<rect x="1441.2" y="1288.9" width="38.8" height="13.9" fill="#888888"/>
<rect x="1398.1" y="1303.1" width="42.8" height="14.7" fill="#888888"/>
<rect x="1469" y="1302.8" width="11" height="29.3" fill="#888888"/>
<rect x="1468" y="1332.1" width="12" height="13.9" fill="#888888"/>
<rect x="1452.9" y="1346" width="27.1" height="13.9" fill="#888888"/>
<rect x="1439.1" y="1359.9" width="40.9" height="15" fill="#888888"/>
<rect x="1424.1" y="1374.9" width="55.9" height="14.3" fill="#888888"/>
<rect x="1423.2" y="1389.2" width="56.8" height="13.5" fill="#888888"/>
<rect x="1423.2" y="1402.7" width="27.8" height="14.1" fill="#888888"/>
<rect x="1284.2" y="1318.1" width="14.7" height="15" fill="#888888"/>
<rect x="1255" y="1333.1" width="57" height="13.7" fill="#888888"/>
<rect x="1340.2" y="1347.1" width="13.7" height="13.8" fill="#888888"/>
<rect x="1339" y="1360.9" width="28.9" height="14" fill="#888888"/>
<rect x="1476" y="1160" width="248" height="254" fill="#888888"/>
<rect x="1476" y="1160" width="42.1" height="13.8" fill="#ffffff"/>
<rect x="1476" y="1173.8" width="55.2" height="15.2" fill="#ffffff"/>
<rect x="1476" y="1189" width="40.1" height="27.8" fill="#ffffff"/>
<rect x="1476" y="1216.8" width="39.4" height="15" fill="#ffffff"/>
<rect x="1500.8" y="1230.9" width="42.4" height="15.2" fill="#ffffff"/>
<rect x="1513.9" y="1246.1" width="29.3" height="13.8" fill="#ffffff"/>
<rect x="1513.9" y="1259.9" width="28.2" height="14" fill="#ffffff"/>
<rect x="1569.9" y="1259.9" width="29.3" height="14" fill="#ffffff"/>
<rect x="1615" y="1202.1" width="15" height="15" fill="#ffffff"/>
<rect x="1569.5" y="1273.9" width="28.5" height="13.8" fill="#ffffff"/>
<rect x="1568.9" y="1287.7" width="29.1" height="14.3" fill="#ffffff"/>
<rect x="1583" y="1302" width="14.1" height="15" fill="#ffffff"/>
<rect x="1595.9" y="1330.9" width="14.3" height="14.2" fill="#ffffff"/>
<rect x="1710.9" y="1301.7" width="13.1" height="14.3" fill="#ffffff"/>
<rect x="1710" y="1316" width="14" height="13.8" fill="#ffffff"/>
<rect x="1638" y="1330.3" width="29.2" height="14.2" fill="#ffffff"/>
<rect x="1680.8" y="1330.3" width="43.2" height="14.2" fill="#ffffff"/>
<rect x="1624" y="1344.5" width="100" height="14.6" fill="#ffffff"/>
<rect x="1580" y="1359.1" width="100.1" height="14" fill="#ffffff"/>
<rect x="1707.9" y="1359.1" width="16.1" height="14" fill="#ffffff"/>
<rect x="1580" y="1373.1" width="99.2" height="15" fill="#ffffff"/>
<rect x="1707.9" y="1373.1" width="16.1" height="15" fill="#ffffff"/>
<rect x="1565" y="1388.1" width="114.2" height="13.9" fill="#ffffff"/>
<rect x="1565" y="1402" width="99.2" height="12" fill="#ffffff"/>
<rect x="1476" y="1402.7" width="3" height="11.3" fill="#ffffff"/>
<rect x="1023.1" y="1491.2" width="27.8" height="14" fill="#888888"/>
<rect x="1023.1" y="1504.4" width="98.7" height="14.6" fill="#888888"/>
<rect x="1164.4" y="1504.4" width="13.5" height="14.6" fill="#888888"/>
<rect x="1192.2" y="1504.4" width="28.8" height="14.6" fill="#888888"/>
<rect x="1022" y="1519" width="112.8" height="14" fill="#888888"/>
<rect x="1149" y="1519" width="77" height="14" fill="#888888"/>
<rect x="1022" y="1533" width="204" height="13.8" fill="#888888"/>
<rect x="1049.1" y="1546.8" width="176.9" height="15" fill="#888888"/>
<rect x="1063.1" y="1561.8" width="162.9" height="14" fill="#888888"/>
<rect x="1091.2" y="1575.8" width="134.8" height="13.8" fill="#888888"/>
<rect x="1104.2" y="1589.6" width="28.6" height="14.3" fill="#888888"/>
<rect x="1147.1" y="1589.6" width="78.9" height="14.3" fill="#888888"/>
<rect x="1118.1" y="1603.9" width="107.9" height="14" fill="#888888"/>
<rect x="1117" y="1617.9" width="14.8" height="14" fill="#888888"/>
<rect x="1160.2" y="1617.9" width="65.8" height="14" fill="#888888"/>
<rect x="1117" y="1631.9" width="109" height="13.8" fill="#888888"/>
<rect x="1131" y="1645.7" width="95" height="6.3" fill="#888888"/>
<rect x="1408.1" y="1416.8" width="42.9" height="14" fill="#888888"/>
<rect x="1422.1" y="1430.8" width="13.9" height="15" fill="#888888"/>
<rect x="1321.1" y="1474.4" width="27.8" height="14" fill="#888888"/>
<rect x="1420.2" y="1474.4" width="27.8" height="14" fill="#888888"/>
<rect x="1463.2" y="1474.4" width="16.8" height="14" fill="#888888"/>
<rect x="1292.1" y="1488.4" width="56.8" height="14.5" fill="#888888"/>
<rect x="1419.1" y="1488.4" width="60.9" height="14.5" fill="#888888"/>
<rect x="1249" y="1502.9" width="41.9" height="14.6" fill="#888888"/>
<rect x="1306.1" y="1502.9" width="27.7" height="14.6" fill="#888888"/>
<rect x="1391" y="1502.9" width="89" height="14.6" fill="#888888"/>
<rect x="1226" y="1517.5" width="64.9" height="14.5" fill="#888888"/>
<rect x="1305.2" y="1517.5" width="13.7" height="14.5" fill="#888888"/>
<rect x="1333.2" y="1517.5" width="146.8" height="14.5" fill="#888888"/>
<rect x="1226" y="1532" width="254" height="13" fill="#888888"/>
<rect x="1226" y="1545" width="248" height="13.8" fill="#888888"/>
<rect x="1226" y="1558.8" width="219" height="14.8" fill="#888888"/>
<rect x="1226" y="1573.6" width="217.9" height="28.2" fill="#888888"/>
<rect x="1226" y="1601.8" width="216.9" height="14.6" fill="#888888"/>
<rect x="1226" y="1616.4" width="231" height="14.3" fill="#888888"/>
<rect x="1226" y="1630.7" width="187.9" height="14.3" fill="#888888"/>
<rect x="1226" y="1645" width="186.8" height="7" fill="#888888"/>
<rect x="1442" y="1645" width="14" height="7" fill="#888888"/>
<rect x="1479" y="1406" width="86" height="10.5" fill="#888888"/>
<rect x="1664.2" y="1406" width="59.8" height="10.5" fill="#888888"/>
<rect x="1536.1" y="1416.5" width="13.8" height="13.5" fill="#888888"/>
<rect x="1621" y="1416.5" width="14" height="13.5" fill="#888888"/>
<rect x="1663.1" y="1416.5" width="56.7" height="13.5" fill="#888888"/>
<rect x="1535.4" y="1430" width="13.8" height="14.3" fill="#888888"/>
<rect x="1620.3" y="1430" width="13.8" height="14.3" fill="#888888"/>
<rect x="1677.1" y="1430" width="42.7" height="14.3" fill="#888888"/>
<rect x="1478.3" y="1444.3" width="13.5" height="14.6" fill="#888888"/>
<rect x="1534.9" y="1444.3" width="14" height="14.6" fill="#888888"/>
<rect x="1620.3" y="1444.3" width="13.8" height="14.6" fill="#888888"/>
<rect x="1676.2" y="1444.3" width="47.8" height="14.6" fill="#888888"/>
<rect x="1477.2" y="1458.9" width="28.6" height="14.7" fill="#888888"/>
<rect x="1534.2" y="1458.9" width="13.6" height="14.7" fill="#888888"/>
<rect x="1662.1" y="1458.9" width="61.9" height="14.7" fill="#888888"/>
<rect x="1476" y="1473.6" width="28.9" height="14.3" fill="#888888"/>
<rect x="1519.1" y="1473.6" width="14" height="14.3" fill="#888888"/>
<rect x="1661.2" y="1473.6" width="62.8" height="14.3" fill="#888888"/>
<rect x="1476" y="1487.9" width="13.8" height="13.5" fill="#888888"/>
<rect x="1504.1" y="1487.9" width="14.7" height="13.5" fill="#888888"/>
<rect x="1660.1" y="1487.9" width="63.9" height="13.5" fill="#888888"/>
<rect x="1476" y="1501.4" width="13.5" height="14.3" fill="#888888"/>
<rect x="1688.2" y="1501.4" width="35.8" height="14.3" fill="#888888"/>
<rect x="1476" y="1515.7" width="12.8" height="14.3" fill="#888888"/>
<rect x="1673.2" y="1515.7" width="50.8" height="14.3" fill="#888888"/>
<rect x="1476" y="1530" width="12.8" height="14" fill="#888888"/>
<rect x="1659" y="1530" width="65" height="14" fill="#888888"/>
<rect x="1644" y="1544" width="80" height="14.1" fill="#888888"/>
<rect x="1629" y="1558.1" width="95" height="14.7" fill="#888888"/>
<rect x="1529.1" y="1572.8" width="28.8" height="14" fill="#888888"/>
<rect x="1572.2" y="1572.8" width="27.8" height="14" fill="#888888"/>
<rect x="1614" y="1572.8" width="110" height="14" fill="#888888"/>
<rect x="1529.1" y="1586.8" width="27.8" height="14.3" fill="#888888"/>
<rect x="1571" y="1586.8" width="153" height="14.3" fill="#888888"/>
<rect x="1528.1" y="1601.1" width="195.9" height="28.8" fill="#888888"/>
<rect x="1541.1" y="1629.9" width="182.9" height="14.3" fill="#888888"/>
<rect x="1513.1" y="1644.2" width="27.8" height="7.8" fill="#888888"/>
<rect x="1555.2" y="1644.2" width="168.8" height="7.8" fill="#888888"/>
<rect x="977.5" y="904.7" width="124" height="1.2" fill="#fff"/>
</g>
<rect x="987.5" y="916.5" width="179.5" height="32.8" rx="4" fill="#000"/>
<text x="993.8" y="938.8" font-size="20.83" text-anchor="start" font-weight="bold" fill="#fff">WMG Count: 0</text>
<rect x="974.4" y="903.3" width="750.2" height="750.1" fill="none" stroke="#000" stroke-width="2.78"/>
</svg></body></html>
